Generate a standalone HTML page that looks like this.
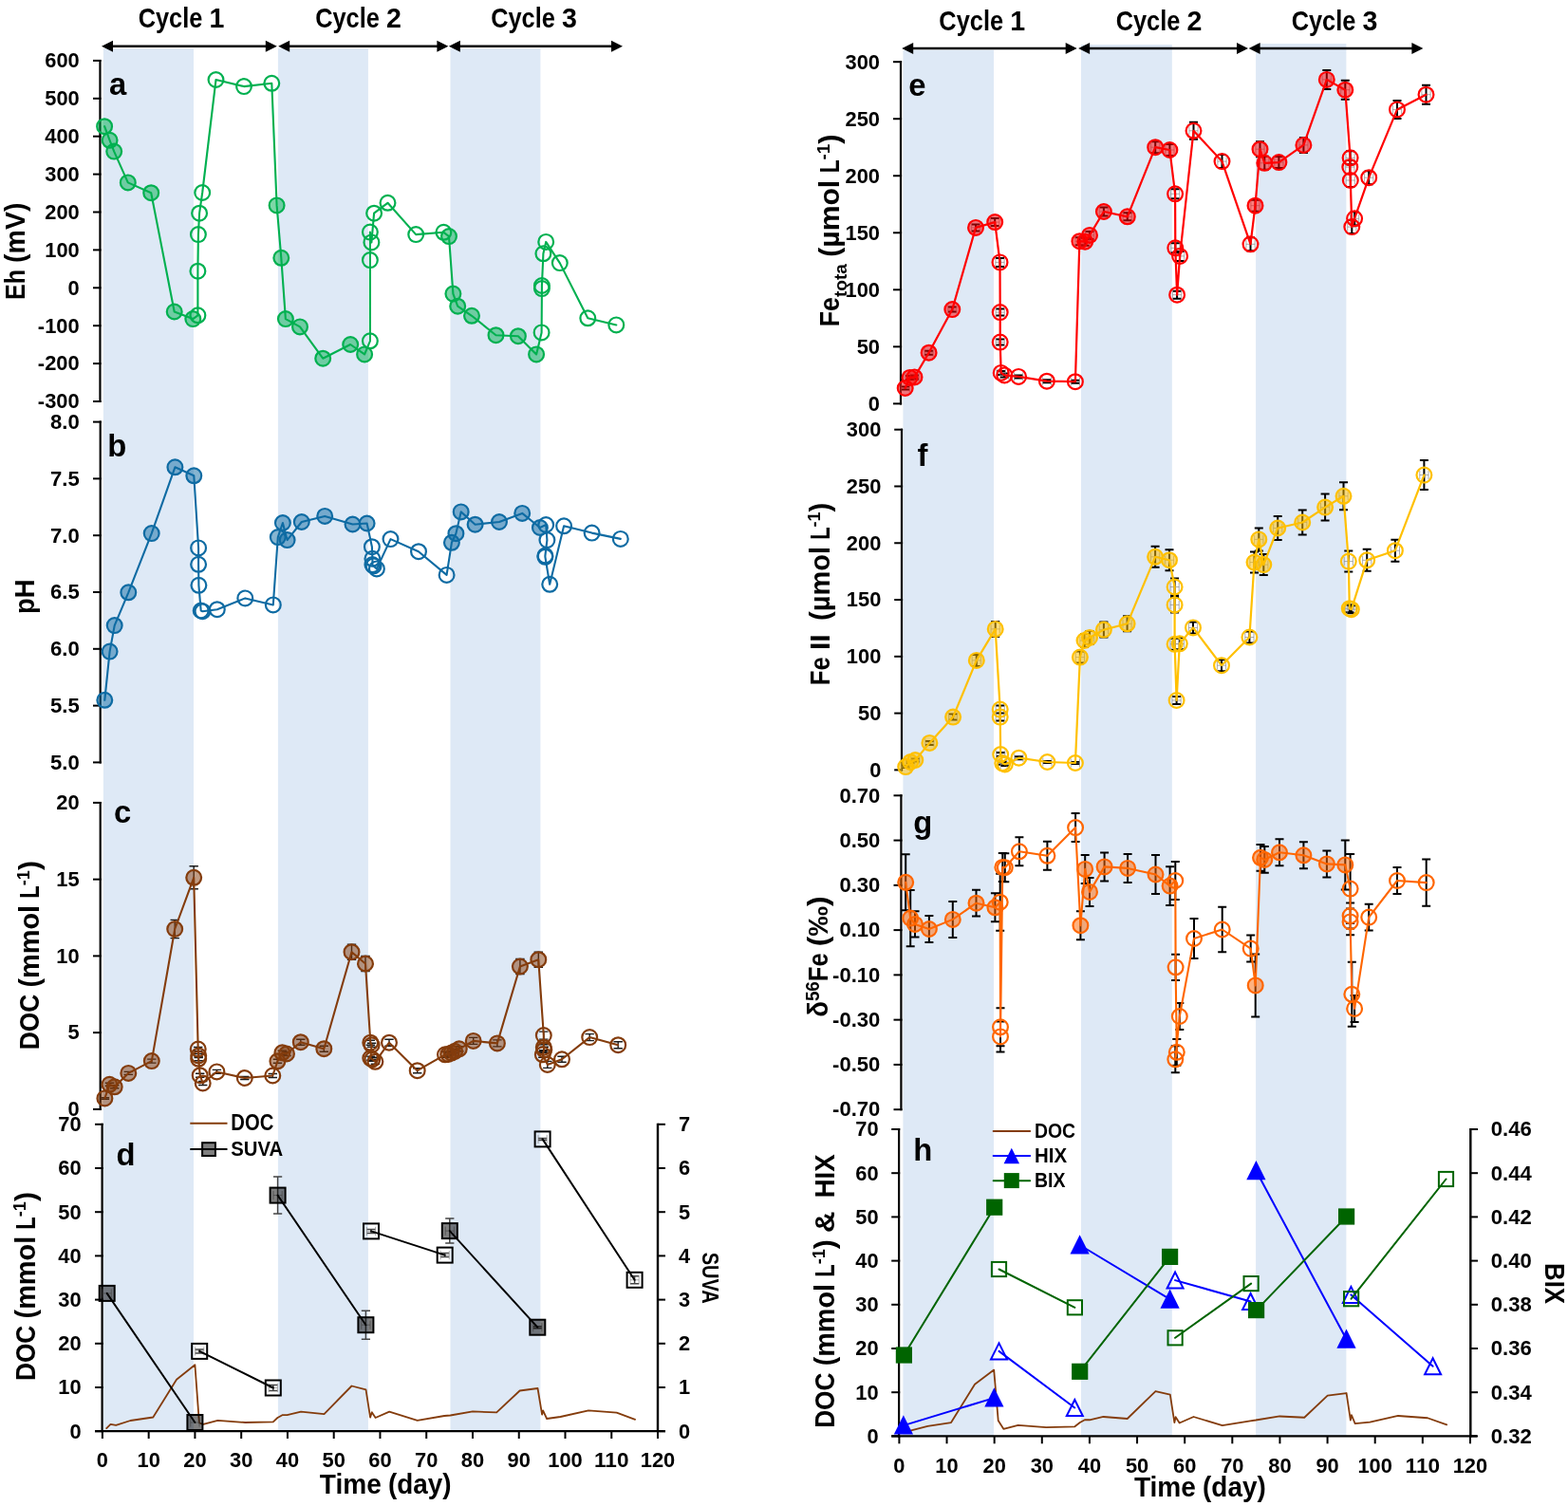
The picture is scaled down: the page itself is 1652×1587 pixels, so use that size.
<!DOCTYPE html>
<html lang="en"><head><meta charset="utf-8"><title>Redox cycles figure</title>
<style>
html,body{margin:0;padding:0;background:#fff;}
body{width:1652px;height:1587px;overflow:hidden;}
svg{display:block;}
svg text{font-family:"Liberation Sans", Arial, Helvetica, sans-serif;font-weight:bold;fill:#000;}
</style></head><body>
<svg width="1652" height="1587" viewBox="0 0 1652 1587">
<rect x="0" y="0" width="1652" height="1587" fill="#fff"/>
<rect x="108.9" y="51" width="95.1" height="1457" fill="#DEE9F6"/>
<rect x="292.9" y="51" width="95" height="1457" fill="#DEE9F6"/>
<rect x="474.5" y="51" width="94.9" height="1457" fill="#DEE9F6"/>
<rect x="951.4" y="52.7" width="95.6" height="1460.7" fill="#DEE9F6"/>
<rect x="1139" y="47" width="95.8" height="1466.4" fill="#DEE9F6"/>
<rect x="1323.1" y="46" width="95.3" height="1467.4" fill="#DEE9F6"/>
<line x1="118" y1="48.8" x2="280.8" y2="48.8" stroke="#000" stroke-width="2.5" stroke-linecap="butt"/>
<polygon points="107,48.8 119,42.8 119,54.8" fill="#000"/>
<polygon points="291.8,48.8 279.8,42.8 279.8,54.8" fill="#000"/>
<line x1="304.2" y1="48.8" x2="461.4" y2="48.8" stroke="#000" stroke-width="2.5" stroke-linecap="butt"/>
<polygon points="293.2,48.8 305.2,42.8 305.2,54.8" fill="#000"/>
<polygon points="472.4,48.8 460.4,42.8 460.4,54.8" fill="#000"/>
<line x1="483.9" y1="48.8" x2="645" y2="48.8" stroke="#000" stroke-width="2.5" stroke-linecap="butt"/>
<polygon points="472.9,48.8 484.9,42.8 484.9,54.8" fill="#000"/>
<polygon points="656,48.8 644,42.8 644,54.8" fill="#000"/>
<g transform="translate(191 29.3)">
<text x="-45.35" y="0" font-size="30.08" textLength="67.7" lengthAdjust="spacingAndGlyphs">Cycle</text>
<text x="29.45" y="0" font-size="30.08" textLength="15.9" lengthAdjust="spacingAndGlyphs">1</text>
</g>
<g transform="translate(377.5 29.3)">
<text x="-45.35" y="0" font-size="30.08" textLength="67.7" lengthAdjust="spacingAndGlyphs">Cycle</text>
<text x="29.45" y="0" font-size="30.08" textLength="15.9" lengthAdjust="spacingAndGlyphs">2</text>
</g>
<g transform="translate(562.5 29.3)">
<text x="-45.35" y="0" font-size="30.08" textLength="67.7" lengthAdjust="spacingAndGlyphs">Cycle</text>
<text x="29.45" y="0" font-size="30.08" textLength="15.9" lengthAdjust="spacingAndGlyphs">3</text>
</g>
<line x1="961.2" y1="51" x2="1123.7" y2="51" stroke="#000" stroke-width="2.6" stroke-linecap="butt"/>
<polygon points="950.2,51 962.2,45 962.2,57" fill="#000"/>
<polygon points="1134.7,51 1122.7,45 1122.7,57" fill="#000"/>
<line x1="1147.1" y1="51" x2="1304" y2="51" stroke="#000" stroke-width="2.6" stroke-linecap="butt"/>
<polygon points="1136.1,51 1148.1,45 1148.1,57" fill="#000"/>
<polygon points="1315,51 1303,45 1303,57" fill="#000"/>
<line x1="1326.6" y1="51" x2="1488.4" y2="51" stroke="#000" stroke-width="2.6" stroke-linecap="butt"/>
<polygon points="1315.6,51 1327.6,45 1327.6,57" fill="#000"/>
<polygon points="1499.4,51 1487.4,45 1487.4,57" fill="#000"/>
<g transform="translate(1034.7 32.2)">
<text x="-45.35" y="0" font-size="30.08" textLength="67.7" lengthAdjust="spacingAndGlyphs">Cycle</text>
<text x="29.45" y="0" font-size="30.08" textLength="15.9" lengthAdjust="spacingAndGlyphs">1</text>
</g>
<g transform="translate(1221 32.2)">
<text x="-45.35" y="0" font-size="30.08" textLength="67.7" lengthAdjust="spacingAndGlyphs">Cycle</text>
<text x="29.45" y="0" font-size="30.08" textLength="15.9" lengthAdjust="spacingAndGlyphs">2</text>
</g>
<g transform="translate(1406 32.2)">
<text x="-45.35" y="0" font-size="30.08" textLength="67.7" lengthAdjust="spacingAndGlyphs">Cycle</text>
<text x="29.45" y="0" font-size="30.08" textLength="15.9" lengthAdjust="spacingAndGlyphs">3</text>
</g>
<line x1="105.45" y1="62.9" x2="105.45" y2="424" stroke="#000" stroke-width="2.2" stroke-linecap="butt"/>
<line x1="98" y1="63.9" x2="106.55" y2="63.9" stroke="#000" stroke-width="2" stroke-linecap="butt"/>
<g transform="translate(83.7 71.2)">
<text x="-36.49" y="0" font-size="22.56" textLength="36.49" lengthAdjust="spacingAndGlyphs">600</text>
</g>
<line x1="98" y1="103.8" x2="106.55" y2="103.8" stroke="#000" stroke-width="2" stroke-linecap="butt"/>
<g transform="translate(83.7 111.1)">
<text x="-36.49" y="0" font-size="22.56" textLength="36.49" lengthAdjust="spacingAndGlyphs">500</text>
</g>
<line x1="98" y1="143.7" x2="106.55" y2="143.7" stroke="#000" stroke-width="2" stroke-linecap="butt"/>
<g transform="translate(83.7 151)">
<text x="-36.49" y="0" font-size="22.56" textLength="36.49" lengthAdjust="spacingAndGlyphs">400</text>
</g>
<line x1="98" y1="183.6" x2="106.55" y2="183.6" stroke="#000" stroke-width="2" stroke-linecap="butt"/>
<g transform="translate(83.7 190.9)">
<text x="-36.49" y="0" font-size="22.56" textLength="36.49" lengthAdjust="spacingAndGlyphs">300</text>
</g>
<line x1="98" y1="223.5" x2="106.55" y2="223.5" stroke="#000" stroke-width="2" stroke-linecap="butt"/>
<g transform="translate(83.7 230.8)">
<text x="-36.49" y="0" font-size="22.56" textLength="36.49" lengthAdjust="spacingAndGlyphs">200</text>
</g>
<line x1="98" y1="263.4" x2="106.55" y2="263.4" stroke="#000" stroke-width="2" stroke-linecap="butt"/>
<g transform="translate(83.7 270.7)">
<text x="-36.49" y="0" font-size="22.56" textLength="36.49" lengthAdjust="spacingAndGlyphs">100</text>
</g>
<line x1="98" y1="303.3" x2="106.55" y2="303.3" stroke="#000" stroke-width="2" stroke-linecap="butt"/>
<g transform="translate(83.7 310.6)">
<text x="-12.16" y="0" font-size="22.56" textLength="12.16" lengthAdjust="spacingAndGlyphs">0</text>
</g>
<line x1="98" y1="343.2" x2="106.55" y2="343.2" stroke="#000" stroke-width="2" stroke-linecap="butt"/>
<g transform="translate(83.7 350.5)">
<text x="-43.84" y="0" font-size="22.56" textLength="43.84" lengthAdjust="spacingAndGlyphs">-100</text>
</g>
<line x1="98" y1="383.1" x2="106.55" y2="383.1" stroke="#000" stroke-width="2" stroke-linecap="butt"/>
<g transform="translate(83.7 390.4)">
<text x="-43.84" y="0" font-size="22.56" textLength="43.84" lengthAdjust="spacingAndGlyphs">-200</text>
</g>
<line x1="98" y1="423" x2="106.55" y2="423" stroke="#000" stroke-width="2" stroke-linecap="butt"/>
<g transform="translate(83.7 430.3)">
<text x="-43.84" y="0" font-size="22.56" textLength="43.84" lengthAdjust="spacingAndGlyphs">-300</text>
</g>
<line x1="105.7" y1="443.6" x2="105.7" y2="804.4" stroke="#000" stroke-width="2.2" stroke-linecap="butt"/>
<line x1="98" y1="444.6" x2="106.8" y2="444.6" stroke="#000" stroke-width="2" stroke-linecap="butt"/>
<g transform="translate(83.7 451.9)">
<text x="-30.74" y="0" font-size="22.56" textLength="30.74" lengthAdjust="spacingAndGlyphs">8.0</text>
</g>
<line x1="98" y1="504.4" x2="106.8" y2="504.4" stroke="#000" stroke-width="2" stroke-linecap="butt"/>
<g transform="translate(83.7 511.7)">
<text x="-30.74" y="0" font-size="22.56" textLength="30.74" lengthAdjust="spacingAndGlyphs">7.5</text>
</g>
<line x1="98" y1="564.2" x2="106.8" y2="564.2" stroke="#000" stroke-width="2" stroke-linecap="butt"/>
<g transform="translate(83.7 571.5)">
<text x="-30.74" y="0" font-size="22.56" textLength="30.74" lengthAdjust="spacingAndGlyphs">7.0</text>
</g>
<line x1="98" y1="624" x2="106.8" y2="624" stroke="#000" stroke-width="2" stroke-linecap="butt"/>
<g transform="translate(83.7 631.3)">
<text x="-30.74" y="0" font-size="22.56" textLength="30.74" lengthAdjust="spacingAndGlyphs">6.5</text>
</g>
<line x1="98" y1="683.8" x2="106.8" y2="683.8" stroke="#000" stroke-width="2" stroke-linecap="butt"/>
<g transform="translate(83.7 691.1)">
<text x="-30.74" y="0" font-size="22.56" textLength="30.74" lengthAdjust="spacingAndGlyphs">6.0</text>
</g>
<line x1="98" y1="743.6" x2="106.8" y2="743.6" stroke="#000" stroke-width="2" stroke-linecap="butt"/>
<g transform="translate(83.7 750.9)">
<text x="-30.74" y="0" font-size="22.56" textLength="30.74" lengthAdjust="spacingAndGlyphs">5.5</text>
</g>
<line x1="98" y1="803.4" x2="106.8" y2="803.4" stroke="#000" stroke-width="2" stroke-linecap="butt"/>
<g transform="translate(83.7 810.7)">
<text x="-30.74" y="0" font-size="22.56" textLength="30.74" lengthAdjust="spacingAndGlyphs">5.0</text>
</g>
<line x1="105.7" y1="844.9" x2="105.7" y2="1169.9" stroke="#000" stroke-width="2.2" stroke-linecap="butt"/>
<line x1="98" y1="845.9" x2="106.8" y2="845.9" stroke="#000" stroke-width="2" stroke-linecap="butt"/>
<g transform="translate(83.7 853.2)">
<text x="-24.33" y="0" font-size="22.56" textLength="24.33" lengthAdjust="spacingAndGlyphs">20</text>
</g>
<line x1="98" y1="926.65" x2="106.8" y2="926.65" stroke="#000" stroke-width="2" stroke-linecap="butt"/>
<g transform="translate(83.7 933.95)">
<text x="-24.33" y="0" font-size="22.56" textLength="24.33" lengthAdjust="spacingAndGlyphs">15</text>
</g>
<line x1="98" y1="1007.4" x2="106.8" y2="1007.4" stroke="#000" stroke-width="2" stroke-linecap="butt"/>
<g transform="translate(83.7 1014.7)">
<text x="-24.33" y="0" font-size="22.56" textLength="24.33" lengthAdjust="spacingAndGlyphs">10</text>
</g>
<line x1="98" y1="1088.15" x2="106.8" y2="1088.15" stroke="#000" stroke-width="2" stroke-linecap="butt"/>
<g transform="translate(83.7 1095.45)">
<text x="-12.16" y="0" font-size="22.56" textLength="12.16" lengthAdjust="spacingAndGlyphs">5</text>
</g>
<line x1="98" y1="1168.9" x2="106.8" y2="1168.9" stroke="#000" stroke-width="2" stroke-linecap="butt"/>
<g transform="translate(83.7 1176.2)">
<text x="-12.16" y="0" font-size="22.56" textLength="12.16" lengthAdjust="spacingAndGlyphs">0</text>
</g>
<line x1="107.6" y1="1183.8" x2="107.6" y2="1509.2" stroke="#000" stroke-width="2.2" stroke-linecap="butt"/>
<line x1="100" y1="1184.8" x2="108.7" y2="1184.8" stroke="#000" stroke-width="2" stroke-linecap="butt"/>
<g transform="translate(85.6 1192.1)">
<text x="-24.33" y="0" font-size="22.56" textLength="24.33" lengthAdjust="spacingAndGlyphs">70</text>
</g>
<line x1="100" y1="1231" x2="108.7" y2="1231" stroke="#000" stroke-width="2" stroke-linecap="butt"/>
<g transform="translate(85.6 1238.3)">
<text x="-24.33" y="0" font-size="22.56" textLength="24.33" lengthAdjust="spacingAndGlyphs">60</text>
</g>
<line x1="100" y1="1277.2" x2="108.7" y2="1277.2" stroke="#000" stroke-width="2" stroke-linecap="butt"/>
<g transform="translate(85.6 1284.5)">
<text x="-24.33" y="0" font-size="22.56" textLength="24.33" lengthAdjust="spacingAndGlyphs">50</text>
</g>
<line x1="100" y1="1323.4" x2="108.7" y2="1323.4" stroke="#000" stroke-width="2" stroke-linecap="butt"/>
<g transform="translate(85.6 1330.7)">
<text x="-24.33" y="0" font-size="22.56" textLength="24.33" lengthAdjust="spacingAndGlyphs">40</text>
</g>
<line x1="100" y1="1369.6" x2="108.7" y2="1369.6" stroke="#000" stroke-width="2" stroke-linecap="butt"/>
<g transform="translate(85.6 1376.9)">
<text x="-24.33" y="0" font-size="22.56" textLength="24.33" lengthAdjust="spacingAndGlyphs">30</text>
</g>
<line x1="100" y1="1415.8" x2="108.7" y2="1415.8" stroke="#000" stroke-width="2" stroke-linecap="butt"/>
<g transform="translate(85.6 1423.1)">
<text x="-24.33" y="0" font-size="22.56" textLength="24.33" lengthAdjust="spacingAndGlyphs">20</text>
</g>
<line x1="100" y1="1462" x2="108.7" y2="1462" stroke="#000" stroke-width="2" stroke-linecap="butt"/>
<g transform="translate(85.6 1469.3)">
<text x="-24.33" y="0" font-size="22.56" textLength="24.33" lengthAdjust="spacingAndGlyphs">10</text>
</g>
<line x1="100" y1="1508.2" x2="108.7" y2="1508.2" stroke="#000" stroke-width="2" stroke-linecap="butt"/>
<g transform="translate(85.6 1515.5)">
<text x="-12.16" y="0" font-size="22.56" textLength="12.16" lengthAdjust="spacingAndGlyphs">0</text>
</g>
<line x1="100" y1="1508.1" x2="701" y2="1508.1" stroke="#000" stroke-width="2.4" stroke-linecap="butt"/>
<line x1="107.9" y1="1508.1" x2="107.9" y2="1516" stroke="#000" stroke-width="2" stroke-linecap="butt"/>
<g transform="translate(107.9 1546.3)">
<text x="-6.08" y="0" font-size="22.56" textLength="12.16" lengthAdjust="spacingAndGlyphs">0</text>
</g>
<line x1="156.66" y1="1508.1" x2="156.66" y2="1516" stroke="#000" stroke-width="2" stroke-linecap="butt"/>
<g transform="translate(156.66 1546.3)">
<text x="-12.16" y="0" font-size="22.56" textLength="24.33" lengthAdjust="spacingAndGlyphs">10</text>
</g>
<line x1="205.42" y1="1508.1" x2="205.42" y2="1516" stroke="#000" stroke-width="2" stroke-linecap="butt"/>
<g transform="translate(205.42 1546.3)">
<text x="-12.16" y="0" font-size="22.56" textLength="24.33" lengthAdjust="spacingAndGlyphs">20</text>
</g>
<line x1="254.18" y1="1508.1" x2="254.18" y2="1516" stroke="#000" stroke-width="2" stroke-linecap="butt"/>
<g transform="translate(254.18 1546.3)">
<text x="-12.16" y="0" font-size="22.56" textLength="24.33" lengthAdjust="spacingAndGlyphs">30</text>
</g>
<line x1="302.94" y1="1508.1" x2="302.94" y2="1516" stroke="#000" stroke-width="2" stroke-linecap="butt"/>
<g transform="translate(302.94 1546.3)">
<text x="-12.16" y="0" font-size="22.56" textLength="24.33" lengthAdjust="spacingAndGlyphs">40</text>
</g>
<line x1="351.7" y1="1508.1" x2="351.7" y2="1516" stroke="#000" stroke-width="2" stroke-linecap="butt"/>
<g transform="translate(351.7 1546.3)">
<text x="-12.16" y="0" font-size="22.56" textLength="24.33" lengthAdjust="spacingAndGlyphs">50</text>
</g>
<line x1="400.46" y1="1508.1" x2="400.46" y2="1516" stroke="#000" stroke-width="2" stroke-linecap="butt"/>
<g transform="translate(400.46 1546.3)">
<text x="-12.16" y="0" font-size="22.56" textLength="24.33" lengthAdjust="spacingAndGlyphs">60</text>
</g>
<line x1="449.22" y1="1508.1" x2="449.22" y2="1516" stroke="#000" stroke-width="2" stroke-linecap="butt"/>
<g transform="translate(449.22 1546.3)">
<text x="-12.16" y="0" font-size="22.56" textLength="24.33" lengthAdjust="spacingAndGlyphs">70</text>
</g>
<line x1="497.98" y1="1508.1" x2="497.98" y2="1516" stroke="#000" stroke-width="2" stroke-linecap="butt"/>
<g transform="translate(497.98 1546.3)">
<text x="-12.16" y="0" font-size="22.56" textLength="24.33" lengthAdjust="spacingAndGlyphs">80</text>
</g>
<line x1="546.74" y1="1508.1" x2="546.74" y2="1516" stroke="#000" stroke-width="2" stroke-linecap="butt"/>
<g transform="translate(546.74 1546.3)">
<text x="-12.16" y="0" font-size="22.56" textLength="24.33" lengthAdjust="spacingAndGlyphs">90</text>
</g>
<line x1="595.5" y1="1508.1" x2="595.5" y2="1516" stroke="#000" stroke-width="2" stroke-linecap="butt"/>
<g transform="translate(595.5 1546.3)">
<text x="-18.25" y="0" font-size="22.56" textLength="36.49" lengthAdjust="spacingAndGlyphs">100</text>
</g>
<line x1="644.26" y1="1508.1" x2="644.26" y2="1516" stroke="#000" stroke-width="2" stroke-linecap="butt"/>
<g transform="translate(644.26 1546.3)">
<text x="-18.25" y="0" font-size="22.56" textLength="36.49" lengthAdjust="spacingAndGlyphs">110</text>
</g>
<line x1="693.02" y1="1508.1" x2="693.02" y2="1516" stroke="#000" stroke-width="2" stroke-linecap="butt"/>
<g transform="translate(693.02 1546.3)">
<text x="-18.25" y="0" font-size="22.56" textLength="36.49" lengthAdjust="spacingAndGlyphs">120</text>
</g>
<line x1="693" y1="1183.8" x2="693" y2="1509.1" stroke="#000" stroke-width="2.4" stroke-linecap="butt"/>
<line x1="693" y1="1184.8" x2="701" y2="1184.8" stroke="#000" stroke-width="2" stroke-linecap="butt"/>
<g transform="translate(714.9 1192.1)">
<text x="0" y="0" font-size="22.56" textLength="12.16" lengthAdjust="spacingAndGlyphs">7</text>
</g>
<line x1="693" y1="1231" x2="701" y2="1231" stroke="#000" stroke-width="2" stroke-linecap="butt"/>
<g transform="translate(714.9 1238.3)">
<text x="0" y="0" font-size="22.56" textLength="12.16" lengthAdjust="spacingAndGlyphs">6</text>
</g>
<line x1="693" y1="1277.2" x2="701" y2="1277.2" stroke="#000" stroke-width="2" stroke-linecap="butt"/>
<g transform="translate(714.9 1284.5)">
<text x="0" y="0" font-size="22.56" textLength="12.16" lengthAdjust="spacingAndGlyphs">5</text>
</g>
<line x1="693" y1="1323.4" x2="701" y2="1323.4" stroke="#000" stroke-width="2" stroke-linecap="butt"/>
<g transform="translate(714.9 1330.7)">
<text x="0" y="0" font-size="22.56" textLength="12.16" lengthAdjust="spacingAndGlyphs">4</text>
</g>
<line x1="693" y1="1369.6" x2="701" y2="1369.6" stroke="#000" stroke-width="2" stroke-linecap="butt"/>
<g transform="translate(714.9 1376.9)">
<text x="0" y="0" font-size="22.56" textLength="12.16" lengthAdjust="spacingAndGlyphs">3</text>
</g>
<line x1="693" y1="1415.8" x2="701" y2="1415.8" stroke="#000" stroke-width="2" stroke-linecap="butt"/>
<g transform="translate(714.9 1423.1)">
<text x="0" y="0" font-size="22.56" textLength="12.16" lengthAdjust="spacingAndGlyphs">2</text>
</g>
<line x1="693" y1="1462" x2="701" y2="1462" stroke="#000" stroke-width="2" stroke-linecap="butt"/>
<g transform="translate(714.9 1469.3)">
<text x="0" y="0" font-size="22.56" textLength="12.16" lengthAdjust="spacingAndGlyphs">1</text>
</g>
<line x1="693" y1="1508.2" x2="701" y2="1508.2" stroke="#000" stroke-width="2" stroke-linecap="butt"/>
<g transform="translate(714.9 1515.5)">
<text x="0" y="0" font-size="22.56" textLength="12.16" lengthAdjust="spacingAndGlyphs">0</text>
</g>
<g transform="translate(336.8 1573.9)">
<text x="0" y="0" font-size="30.08" textLength="65.02" lengthAdjust="spacingAndGlyphs">Time</text>
<text x="72.16" y="0" font-size="30.08" textLength="66.64" lengthAdjust="spacingAndGlyphs">(day)</text>
</g>
<line x1="949" y1="64.2" x2="949" y2="426.38" stroke="#000" stroke-width="2.2" stroke-linecap="butt"/>
<line x1="941" y1="65.2" x2="950.1" y2="65.2" stroke="#000" stroke-width="2" stroke-linecap="butt"/>
<g transform="translate(927 72.5)">
<text x="-36.49" y="0" font-size="22.56" textLength="36.49" lengthAdjust="spacingAndGlyphs">300</text>
</g>
<line x1="941" y1="125.23" x2="950.1" y2="125.23" stroke="#000" stroke-width="2" stroke-linecap="butt"/>
<g transform="translate(927 132.53)">
<text x="-36.49" y="0" font-size="22.56" textLength="36.49" lengthAdjust="spacingAndGlyphs">250</text>
</g>
<line x1="941" y1="185.26" x2="950.1" y2="185.26" stroke="#000" stroke-width="2" stroke-linecap="butt"/>
<g transform="translate(927 192.56)">
<text x="-36.49" y="0" font-size="22.56" textLength="36.49" lengthAdjust="spacingAndGlyphs">200</text>
</g>
<line x1="941" y1="245.29" x2="950.1" y2="245.29" stroke="#000" stroke-width="2" stroke-linecap="butt"/>
<g transform="translate(927 252.59)">
<text x="-36.49" y="0" font-size="22.56" textLength="36.49" lengthAdjust="spacingAndGlyphs">150</text>
</g>
<line x1="941" y1="305.32" x2="950.1" y2="305.32" stroke="#000" stroke-width="2" stroke-linecap="butt"/>
<g transform="translate(927 312.62)">
<text x="-36.49" y="0" font-size="22.56" textLength="36.49" lengthAdjust="spacingAndGlyphs">100</text>
</g>
<line x1="941" y1="365.35" x2="950.1" y2="365.35" stroke="#000" stroke-width="2" stroke-linecap="butt"/>
<g transform="translate(927 372.65)">
<text x="-24.33" y="0" font-size="22.56" textLength="24.33" lengthAdjust="spacingAndGlyphs">50</text>
</g>
<line x1="941" y1="425.38" x2="950.1" y2="425.38" stroke="#000" stroke-width="2" stroke-linecap="butt"/>
<g transform="translate(927 432.68)">
<text x="-12.16" y="0" font-size="22.56" textLength="12.16" lengthAdjust="spacingAndGlyphs">0</text>
</g>
<line x1="950" y1="451.7" x2="950" y2="812.38" stroke="#000" stroke-width="2.2" stroke-linecap="butt"/>
<line x1="942.2" y1="452.7" x2="951.1" y2="452.7" stroke="#000" stroke-width="2" stroke-linecap="butt"/>
<g transform="translate(928.3 460)">
<text x="-36.49" y="0" font-size="22.56" textLength="36.49" lengthAdjust="spacingAndGlyphs">300</text>
</g>
<line x1="942.2" y1="512.48" x2="951.1" y2="512.48" stroke="#000" stroke-width="2" stroke-linecap="butt"/>
<g transform="translate(928.3 519.78)">
<text x="-36.49" y="0" font-size="22.56" textLength="36.49" lengthAdjust="spacingAndGlyphs">250</text>
</g>
<line x1="942.2" y1="572.26" x2="951.1" y2="572.26" stroke="#000" stroke-width="2" stroke-linecap="butt"/>
<g transform="translate(928.3 579.56)">
<text x="-36.49" y="0" font-size="22.56" textLength="36.49" lengthAdjust="spacingAndGlyphs">200</text>
</g>
<line x1="942.2" y1="632.04" x2="951.1" y2="632.04" stroke="#000" stroke-width="2" stroke-linecap="butt"/>
<g transform="translate(928.3 639.34)">
<text x="-36.49" y="0" font-size="22.56" textLength="36.49" lengthAdjust="spacingAndGlyphs">150</text>
</g>
<line x1="942.2" y1="691.82" x2="951.1" y2="691.82" stroke="#000" stroke-width="2" stroke-linecap="butt"/>
<g transform="translate(928.3 699.12)">
<text x="-36.49" y="0" font-size="22.56" textLength="36.49" lengthAdjust="spacingAndGlyphs">100</text>
</g>
<line x1="942.2" y1="751.6" x2="951.1" y2="751.6" stroke="#000" stroke-width="2" stroke-linecap="butt"/>
<g transform="translate(928.3 758.9)">
<text x="-24.33" y="0" font-size="22.56" textLength="24.33" lengthAdjust="spacingAndGlyphs">50</text>
</g>
<line x1="942.2" y1="811.38" x2="951.1" y2="811.38" stroke="#000" stroke-width="2" stroke-linecap="butt"/>
<g transform="translate(928.3 818.68)">
<text x="-12.16" y="0" font-size="22.56" textLength="12.16" lengthAdjust="spacingAndGlyphs">0</text>
</g>
<line x1="949.4" y1="837.3" x2="949.4" y2="1170.19" stroke="#000" stroke-width="2.2" stroke-linecap="butt"/>
<line x1="941.5" y1="838.3" x2="950.5" y2="838.3" stroke="#000" stroke-width="2" stroke-linecap="butt"/>
<g transform="translate(927.3 845.6)">
<text x="-42.9" y="0" font-size="22.56" textLength="42.9" lengthAdjust="spacingAndGlyphs">0.70</text>
</g>
<line x1="941.5" y1="885.57" x2="950.5" y2="885.57" stroke="#000" stroke-width="2" stroke-linecap="butt"/>
<g transform="translate(927.3 892.87)">
<text x="-42.9" y="0" font-size="22.56" textLength="42.9" lengthAdjust="spacingAndGlyphs">0.50</text>
</g>
<line x1="941.5" y1="932.84" x2="950.5" y2="932.84" stroke="#000" stroke-width="2" stroke-linecap="butt"/>
<g transform="translate(927.3 940.14)">
<text x="-42.9" y="0" font-size="22.56" textLength="42.9" lengthAdjust="spacingAndGlyphs">0.30</text>
</g>
<line x1="941.5" y1="980.11" x2="950.5" y2="980.11" stroke="#000" stroke-width="2" stroke-linecap="butt"/>
<g transform="translate(927.3 987.41)">
<text x="-42.9" y="0" font-size="22.56" textLength="42.9" lengthAdjust="spacingAndGlyphs">0.10</text>
</g>
<line x1="941.5" y1="1027.38" x2="950.5" y2="1027.38" stroke="#000" stroke-width="2" stroke-linecap="butt"/>
<g transform="translate(927.3 1034.68)">
<text x="-50.25" y="0" font-size="22.56" textLength="50.25" lengthAdjust="spacingAndGlyphs">-0.10</text>
</g>
<line x1="941.5" y1="1074.65" x2="950.5" y2="1074.65" stroke="#000" stroke-width="2" stroke-linecap="butt"/>
<g transform="translate(927.3 1081.95)">
<text x="-50.25" y="0" font-size="22.56" textLength="50.25" lengthAdjust="spacingAndGlyphs">-0.30</text>
</g>
<line x1="941.5" y1="1121.92" x2="950.5" y2="1121.92" stroke="#000" stroke-width="2" stroke-linecap="butt"/>
<g transform="translate(927.3 1129.22)">
<text x="-50.25" y="0" font-size="22.56" textLength="50.25" lengthAdjust="spacingAndGlyphs">-0.50</text>
</g>
<line x1="941.5" y1="1169.19" x2="950.5" y2="1169.19" stroke="#000" stroke-width="2" stroke-linecap="butt"/>
<g transform="translate(927.3 1176.49)">
<text x="-50.25" y="0" font-size="22.56" textLength="50.25" lengthAdjust="spacingAndGlyphs">-0.70</text>
</g>
<line x1="947.1" y1="1189" x2="947.1" y2="1514.4" stroke="#000" stroke-width="2.2" stroke-linecap="butt"/>
<line x1="939.2" y1="1190" x2="948.2" y2="1190" stroke="#000" stroke-width="2" stroke-linecap="butt"/>
<g transform="translate(925.7 1197.3)">
<text x="-24.33" y="0" font-size="22.56" textLength="24.33" lengthAdjust="spacingAndGlyphs">70</text>
</g>
<line x1="939.2" y1="1236.2" x2="948.2" y2="1236.2" stroke="#000" stroke-width="2" stroke-linecap="butt"/>
<g transform="translate(925.7 1243.5)">
<text x="-24.33" y="0" font-size="22.56" textLength="24.33" lengthAdjust="spacingAndGlyphs">60</text>
</g>
<line x1="939.2" y1="1282.4" x2="948.2" y2="1282.4" stroke="#000" stroke-width="2" stroke-linecap="butt"/>
<g transform="translate(925.7 1289.7)">
<text x="-24.33" y="0" font-size="22.56" textLength="24.33" lengthAdjust="spacingAndGlyphs">50</text>
</g>
<line x1="939.2" y1="1328.6" x2="948.2" y2="1328.6" stroke="#000" stroke-width="2" stroke-linecap="butt"/>
<g transform="translate(925.7 1335.9)">
<text x="-24.33" y="0" font-size="22.56" textLength="24.33" lengthAdjust="spacingAndGlyphs">40</text>
</g>
<line x1="939.2" y1="1374.8" x2="948.2" y2="1374.8" stroke="#000" stroke-width="2" stroke-linecap="butt"/>
<g transform="translate(925.7 1382.1)">
<text x="-24.33" y="0" font-size="22.56" textLength="24.33" lengthAdjust="spacingAndGlyphs">30</text>
</g>
<line x1="939.2" y1="1421" x2="948.2" y2="1421" stroke="#000" stroke-width="2" stroke-linecap="butt"/>
<g transform="translate(925.7 1428.3)">
<text x="-24.33" y="0" font-size="22.56" textLength="24.33" lengthAdjust="spacingAndGlyphs">20</text>
</g>
<line x1="939.2" y1="1467.2" x2="948.2" y2="1467.2" stroke="#000" stroke-width="2" stroke-linecap="butt"/>
<g transform="translate(925.7 1474.5)">
<text x="-24.33" y="0" font-size="22.56" textLength="24.33" lengthAdjust="spacingAndGlyphs">10</text>
</g>
<line x1="939.2" y1="1513.4" x2="948.2" y2="1513.4" stroke="#000" stroke-width="2" stroke-linecap="butt"/>
<g transform="translate(925.7 1520.7)">
<text x="-12.16" y="0" font-size="22.56" textLength="12.16" lengthAdjust="spacingAndGlyphs">0</text>
</g>
<line x1="939.2" y1="1513.4" x2="1556.2" y2="1513.4" stroke="#000" stroke-width="2.4" stroke-linecap="butt"/>
<line x1="947.4" y1="1513.4" x2="947.4" y2="1521.3" stroke="#000" stroke-width="2" stroke-linecap="butt"/>
<g transform="translate(947.4 1551.5)">
<text x="-6.08" y="0" font-size="22.56" textLength="12.16" lengthAdjust="spacingAndGlyphs">0</text>
</g>
<line x1="997.53" y1="1513.4" x2="997.53" y2="1521.3" stroke="#000" stroke-width="2" stroke-linecap="butt"/>
<g transform="translate(997.53 1551.5)">
<text x="-12.16" y="0" font-size="22.56" textLength="24.33" lengthAdjust="spacingAndGlyphs">10</text>
</g>
<line x1="1047.66" y1="1513.4" x2="1047.66" y2="1521.3" stroke="#000" stroke-width="2" stroke-linecap="butt"/>
<g transform="translate(1047.66 1551.5)">
<text x="-12.16" y="0" font-size="22.56" textLength="24.33" lengthAdjust="spacingAndGlyphs">20</text>
</g>
<line x1="1097.79" y1="1513.4" x2="1097.79" y2="1521.3" stroke="#000" stroke-width="2" stroke-linecap="butt"/>
<g transform="translate(1097.79 1551.5)">
<text x="-12.16" y="0" font-size="22.56" textLength="24.33" lengthAdjust="spacingAndGlyphs">30</text>
</g>
<line x1="1147.92" y1="1513.4" x2="1147.92" y2="1521.3" stroke="#000" stroke-width="2" stroke-linecap="butt"/>
<g transform="translate(1147.92 1551.5)">
<text x="-12.16" y="0" font-size="22.56" textLength="24.33" lengthAdjust="spacingAndGlyphs">40</text>
</g>
<line x1="1198.05" y1="1513.4" x2="1198.05" y2="1521.3" stroke="#000" stroke-width="2" stroke-linecap="butt"/>
<g transform="translate(1198.05 1551.5)">
<text x="-12.16" y="0" font-size="22.56" textLength="24.33" lengthAdjust="spacingAndGlyphs">50</text>
</g>
<line x1="1248.18" y1="1513.4" x2="1248.18" y2="1521.3" stroke="#000" stroke-width="2" stroke-linecap="butt"/>
<g transform="translate(1248.18 1551.5)">
<text x="-12.16" y="0" font-size="22.56" textLength="24.33" lengthAdjust="spacingAndGlyphs">60</text>
</g>
<line x1="1298.31" y1="1513.4" x2="1298.31" y2="1521.3" stroke="#000" stroke-width="2" stroke-linecap="butt"/>
<g transform="translate(1298.31 1551.5)">
<text x="-12.16" y="0" font-size="22.56" textLength="24.33" lengthAdjust="spacingAndGlyphs">70</text>
</g>
<line x1="1348.44" y1="1513.4" x2="1348.44" y2="1521.3" stroke="#000" stroke-width="2" stroke-linecap="butt"/>
<g transform="translate(1348.44 1551.5)">
<text x="-12.16" y="0" font-size="22.56" textLength="24.33" lengthAdjust="spacingAndGlyphs">80</text>
</g>
<line x1="1398.57" y1="1513.4" x2="1398.57" y2="1521.3" stroke="#000" stroke-width="2" stroke-linecap="butt"/>
<g transform="translate(1398.57 1551.5)">
<text x="-12.16" y="0" font-size="22.56" textLength="24.33" lengthAdjust="spacingAndGlyphs">90</text>
</g>
<line x1="1448.7" y1="1513.4" x2="1448.7" y2="1521.3" stroke="#000" stroke-width="2" stroke-linecap="butt"/>
<g transform="translate(1448.7 1551.5)">
<text x="-18.25" y="0" font-size="22.56" textLength="36.49" lengthAdjust="spacingAndGlyphs">100</text>
</g>
<line x1="1498.83" y1="1513.4" x2="1498.83" y2="1521.3" stroke="#000" stroke-width="2" stroke-linecap="butt"/>
<g transform="translate(1498.83 1551.5)">
<text x="-18.25" y="0" font-size="22.56" textLength="36.49" lengthAdjust="spacingAndGlyphs">110</text>
</g>
<line x1="1548.96" y1="1513.4" x2="1548.96" y2="1521.3" stroke="#000" stroke-width="2" stroke-linecap="butt"/>
<g transform="translate(1548.96 1551.5)">
<text x="-18.25" y="0" font-size="22.56" textLength="36.49" lengthAdjust="spacingAndGlyphs">120</text>
</g>
<line x1="1549.3" y1="1189" x2="1549.3" y2="1514.4" stroke="#000" stroke-width="2.4" stroke-linecap="butt"/>
<line x1="1549.3" y1="1190" x2="1557" y2="1190" stroke="#000" stroke-width="2" stroke-linecap="butt"/>
<g transform="translate(1570.8 1197.3)">
<text x="0" y="0" font-size="22.56" textLength="42.9" lengthAdjust="spacingAndGlyphs">0.46</text>
</g>
<line x1="1549.3" y1="1236.2" x2="1557" y2="1236.2" stroke="#000" stroke-width="2" stroke-linecap="butt"/>
<g transform="translate(1570.8 1243.5)">
<text x="0" y="0" font-size="22.56" textLength="42.9" lengthAdjust="spacingAndGlyphs">0.44</text>
</g>
<line x1="1549.3" y1="1282.4" x2="1557" y2="1282.4" stroke="#000" stroke-width="2" stroke-linecap="butt"/>
<g transform="translate(1570.8 1289.7)">
<text x="0" y="0" font-size="22.56" textLength="42.9" lengthAdjust="spacingAndGlyphs">0.42</text>
</g>
<line x1="1549.3" y1="1328.6" x2="1557" y2="1328.6" stroke="#000" stroke-width="2" stroke-linecap="butt"/>
<g transform="translate(1570.8 1335.9)">
<text x="0" y="0" font-size="22.56" textLength="42.9" lengthAdjust="spacingAndGlyphs">0.40</text>
</g>
<line x1="1549.3" y1="1374.8" x2="1557" y2="1374.8" stroke="#000" stroke-width="2" stroke-linecap="butt"/>
<g transform="translate(1570.8 1382.1)">
<text x="0" y="0" font-size="22.56" textLength="42.9" lengthAdjust="spacingAndGlyphs">0.38</text>
</g>
<line x1="1549.3" y1="1421" x2="1557" y2="1421" stroke="#000" stroke-width="2" stroke-linecap="butt"/>
<g transform="translate(1570.8 1428.3)">
<text x="0" y="0" font-size="22.56" textLength="42.9" lengthAdjust="spacingAndGlyphs">0.36</text>
</g>
<line x1="1549.3" y1="1467.2" x2="1557" y2="1467.2" stroke="#000" stroke-width="2" stroke-linecap="butt"/>
<g transform="translate(1570.8 1474.5)">
<text x="0" y="0" font-size="22.56" textLength="42.9" lengthAdjust="spacingAndGlyphs">0.34</text>
</g>
<line x1="1549.3" y1="1513.4" x2="1557" y2="1513.4" stroke="#000" stroke-width="2" stroke-linecap="butt"/>
<g transform="translate(1570.8 1520.7)">
<text x="0" y="0" font-size="22.56" textLength="42.9" lengthAdjust="spacingAndGlyphs">0.32</text>
</g>
<g transform="translate(1194.9 1577.1)">
<text x="0" y="0" font-size="30.08" textLength="65.02" lengthAdjust="spacingAndGlyphs">Time</text>
<text x="72.16" y="0" font-size="30.08" textLength="66.64" lengthAdjust="spacingAndGlyphs">(day)</text>
</g>
<text x="114.9" y="100" font-size="32.8">a</text>
<text x="113.2" y="480.8" font-size="32.8">b</text>
<text x="120" y="867" font-size="32.8">c</text>
<text x="122.4" y="1228.1" font-size="32.8">d</text>
<text x="957.3" y="101.4" font-size="32.8">e</text>
<text x="966.4" y="491.1" font-size="32.8">f</text>
<text x="962.3" y="877.5" font-size="32.8">g</text>
<text x="962.2" y="1223.1" font-size="32.8">h</text>
<polyline points="110.1,133.2 115.6,147.8 120.2,159.6 134.8,192.4 159.2,203.2 183.7,328.5 203.3,336.1 208.4,332.3 208.4,285.7 208.9,247.1 210.1,224.7 213.2,203 227.5,84 257,91.1 286.3,87.8 291.6,216.4 296.3,271.8 300.9,336.1 316,344.4 340.2,377.7 369.2,363 384.1,373.4 389.9,359.3 389.9,274.1 389.9,244.6 391.4,255.4 394.1,224.7 408.5,213.8 438.2,247.1 467.4,244.8 473,249.1 477.4,309.6 482.2,322.7 497,332.8 522.5,353.2 545.9,354.2 565.1,373.4 570.6,350.4 570.9,304.1 570.9,301 572.4,267.3 575.2,254.9 589.8,277.1 619.3,335.3 649.3,342.4" fill="none" stroke="#00B050" stroke-width="2.1" stroke-linejoin="round" stroke-linecap="round"/>
<circle cx="110.1" cy="133.2" r="7.9" fill="#00B050" fill-opacity="0.5" stroke="#00B050" stroke-width="2.2"/>
<circle cx="115.6" cy="147.8" r="7.9" fill="#00B050" fill-opacity="0.5" stroke="#00B050" stroke-width="2.2"/>
<circle cx="120.2" cy="159.6" r="7.9" fill="#00B050" fill-opacity="0.5" stroke="#00B050" stroke-width="2.2"/>
<circle cx="134.8" cy="192.4" r="7.9" fill="#00B050" fill-opacity="0.5" stroke="#00B050" stroke-width="2.2"/>
<circle cx="159.2" cy="203.2" r="7.9" fill="#00B050" fill-opacity="0.5" stroke="#00B050" stroke-width="2.2"/>
<circle cx="183.7" cy="328.5" r="7.9" fill="#00B050" fill-opacity="0.5" stroke="#00B050" stroke-width="2.2"/>
<circle cx="203.3" cy="336.1" r="7.9" fill="#00B050" fill-opacity="0.5" stroke="#00B050" stroke-width="2.2"/>
<circle cx="208.4" cy="332.3" r="7.9" fill="none" stroke="#00B050" stroke-width="2.2"/>
<circle cx="208.4" cy="285.7" r="7.9" fill="none" stroke="#00B050" stroke-width="2.2"/>
<circle cx="208.9" cy="247.1" r="7.9" fill="none" stroke="#00B050" stroke-width="2.2"/>
<circle cx="210.1" cy="224.7" r="7.9" fill="none" stroke="#00B050" stroke-width="2.2"/>
<circle cx="213.2" cy="203" r="7.9" fill="none" stroke="#00B050" stroke-width="2.2"/>
<circle cx="227.5" cy="84" r="7.9" fill="none" stroke="#00B050" stroke-width="2.2"/>
<circle cx="257" cy="91.1" r="7.9" fill="none" stroke="#00B050" stroke-width="2.2"/>
<circle cx="286.3" cy="87.8" r="7.9" fill="none" stroke="#00B050" stroke-width="2.2"/>
<circle cx="291.6" cy="216.4" r="7.9" fill="#00B050" fill-opacity="0.5" stroke="#00B050" stroke-width="2.2"/>
<circle cx="296.3" cy="271.8" r="7.9" fill="#00B050" fill-opacity="0.5" stroke="#00B050" stroke-width="2.2"/>
<circle cx="300.9" cy="336.1" r="7.9" fill="#00B050" fill-opacity="0.5" stroke="#00B050" stroke-width="2.2"/>
<circle cx="316" cy="344.4" r="7.9" fill="#00B050" fill-opacity="0.5" stroke="#00B050" stroke-width="2.2"/>
<circle cx="340.2" cy="377.7" r="7.9" fill="#00B050" fill-opacity="0.5" stroke="#00B050" stroke-width="2.2"/>
<circle cx="369.2" cy="363" r="7.9" fill="#00B050" fill-opacity="0.5" stroke="#00B050" stroke-width="2.2"/>
<circle cx="384.1" cy="373.4" r="7.9" fill="#00B050" fill-opacity="0.5" stroke="#00B050" stroke-width="2.2"/>
<circle cx="389.9" cy="359.3" r="7.9" fill="none" stroke="#00B050" stroke-width="2.2"/>
<circle cx="389.9" cy="274.1" r="7.9" fill="none" stroke="#00B050" stroke-width="2.2"/>
<circle cx="389.9" cy="244.6" r="7.9" fill="none" stroke="#00B050" stroke-width="2.2"/>
<circle cx="391.4" cy="255.4" r="7.9" fill="none" stroke="#00B050" stroke-width="2.2"/>
<circle cx="394.1" cy="224.7" r="7.9" fill="none" stroke="#00B050" stroke-width="2.2"/>
<circle cx="408.5" cy="213.8" r="7.9" fill="none" stroke="#00B050" stroke-width="2.2"/>
<circle cx="438.2" cy="247.1" r="7.9" fill="none" stroke="#00B050" stroke-width="2.2"/>
<circle cx="467.4" cy="244.8" r="7.9" fill="none" stroke="#00B050" stroke-width="2.2"/>
<circle cx="473" cy="249.1" r="7.9" fill="#00B050" fill-opacity="0.5" stroke="#00B050" stroke-width="2.2"/>
<circle cx="477.4" cy="309.6" r="7.9" fill="#00B050" fill-opacity="0.5" stroke="#00B050" stroke-width="2.2"/>
<circle cx="482.2" cy="322.7" r="7.9" fill="#00B050" fill-opacity="0.5" stroke="#00B050" stroke-width="2.2"/>
<circle cx="497" cy="332.8" r="7.9" fill="#00B050" fill-opacity="0.5" stroke="#00B050" stroke-width="2.2"/>
<circle cx="522.5" cy="353.2" r="7.9" fill="#00B050" fill-opacity="0.5" stroke="#00B050" stroke-width="2.2"/>
<circle cx="545.9" cy="354.2" r="7.9" fill="#00B050" fill-opacity="0.5" stroke="#00B050" stroke-width="2.2"/>
<circle cx="565.1" cy="373.4" r="7.9" fill="#00B050" fill-opacity="0.5" stroke="#00B050" stroke-width="2.2"/>
<circle cx="570.6" cy="350.4" r="7.9" fill="none" stroke="#00B050" stroke-width="2.2"/>
<circle cx="570.9" cy="304.1" r="7.9" fill="none" stroke="#00B050" stroke-width="2.2"/>
<circle cx="570.9" cy="301" r="7.9" fill="none" stroke="#00B050" stroke-width="2.2"/>
<circle cx="572.4" cy="267.3" r="7.9" fill="none" stroke="#00B050" stroke-width="2.2"/>
<circle cx="575.2" cy="254.9" r="7.9" fill="none" stroke="#00B050" stroke-width="2.2"/>
<circle cx="589.8" cy="277.1" r="7.9" fill="none" stroke="#00B050" stroke-width="2.2"/>
<circle cx="619.3" cy="335.3" r="7.9" fill="none" stroke="#00B050" stroke-width="2.2"/>
<circle cx="649.3" cy="342.4" r="7.9" fill="none" stroke="#00B050" stroke-width="2.2"/>
<polyline points="110.3,737.8 115.6,686.6 120.7,659.1 135.3,624.3 159.7,562.1 184.4,492.3 204.3,501.3 209.1,577.4 209.1,594.8 209.4,616.8 211.7,643.5 213.4,644.2 228.8,642.2 258.3,630.4 287.8,637.4 292.8,566.1 297.9,551 302.6,569.1 317.8,550 342.2,543.9 371.5,552.5 386.6,551.5 391.9,576.2 392.4,588.8 392.4,595.1 393.6,596.4 396.9,599.4 411.5,568.1 441,581.2 470.6,605.9 475.9,571.8 480.4,562.2 485.7,539.4 500.6,552.7 526,550 550.2,540.9 568.9,556 575.2,553 576.4,569.1 574.4,585.5 574.4,586.8 579.2,615.8 594.1,554.3 623.6,561.6 653.8,567.9" fill="none" stroke="#0E6BA3" stroke-width="2.1" stroke-linejoin="round" stroke-linecap="round"/>
<circle cx="110.3" cy="737.8" r="7.9" fill="#0E6BA3" fill-opacity="0.5" stroke="#0E6BA3" stroke-width="2.2"/>
<circle cx="115.6" cy="686.6" r="7.9" fill="#0E6BA3" fill-opacity="0.5" stroke="#0E6BA3" stroke-width="2.2"/>
<circle cx="120.7" cy="659.1" r="7.9" fill="#0E6BA3" fill-opacity="0.5" stroke="#0E6BA3" stroke-width="2.2"/>
<circle cx="135.3" cy="624.3" r="7.9" fill="#0E6BA3" fill-opacity="0.5" stroke="#0E6BA3" stroke-width="2.2"/>
<circle cx="159.7" cy="562.1" r="7.9" fill="#0E6BA3" fill-opacity="0.5" stroke="#0E6BA3" stroke-width="2.2"/>
<circle cx="184.4" cy="492.3" r="7.9" fill="#0E6BA3" fill-opacity="0.5" stroke="#0E6BA3" stroke-width="2.2"/>
<circle cx="204.3" cy="501.3" r="7.9" fill="#0E6BA3" fill-opacity="0.5" stroke="#0E6BA3" stroke-width="2.2"/>
<circle cx="209.1" cy="577.4" r="7.9" fill="none" stroke="#0E6BA3" stroke-width="2.2"/>
<circle cx="209.1" cy="594.8" r="7.9" fill="none" stroke="#0E6BA3" stroke-width="2.2"/>
<circle cx="209.4" cy="616.8" r="7.9" fill="none" stroke="#0E6BA3" stroke-width="2.2"/>
<circle cx="211.7" cy="643.5" r="7.9" fill="none" stroke="#0E6BA3" stroke-width="2.2"/>
<circle cx="213.4" cy="644.2" r="7.9" fill="none" stroke="#0E6BA3" stroke-width="2.2"/>
<circle cx="228.8" cy="642.2" r="7.9" fill="none" stroke="#0E6BA3" stroke-width="2.2"/>
<circle cx="258.3" cy="630.4" r="7.9" fill="none" stroke="#0E6BA3" stroke-width="2.2"/>
<circle cx="287.8" cy="637.4" r="7.9" fill="none" stroke="#0E6BA3" stroke-width="2.2"/>
<circle cx="292.8" cy="566.1" r="7.9" fill="#0E6BA3" fill-opacity="0.5" stroke="#0E6BA3" stroke-width="2.2"/>
<circle cx="297.9" cy="551" r="7.9" fill="#0E6BA3" fill-opacity="0.5" stroke="#0E6BA3" stroke-width="2.2"/>
<circle cx="302.6" cy="569.1" r="7.9" fill="#0E6BA3" fill-opacity="0.5" stroke="#0E6BA3" stroke-width="2.2"/>
<circle cx="317.8" cy="550" r="7.9" fill="#0E6BA3" fill-opacity="0.5" stroke="#0E6BA3" stroke-width="2.2"/>
<circle cx="342.2" cy="543.9" r="7.9" fill="#0E6BA3" fill-opacity="0.5" stroke="#0E6BA3" stroke-width="2.2"/>
<circle cx="371.5" cy="552.5" r="7.9" fill="#0E6BA3" fill-opacity="0.5" stroke="#0E6BA3" stroke-width="2.2"/>
<circle cx="386.6" cy="551.5" r="7.9" fill="#0E6BA3" fill-opacity="0.5" stroke="#0E6BA3" stroke-width="2.2"/>
<circle cx="391.9" cy="576.2" r="7.9" fill="none" stroke="#0E6BA3" stroke-width="2.2"/>
<circle cx="392.4" cy="588.8" r="7.9" fill="none" stroke="#0E6BA3" stroke-width="2.2"/>
<circle cx="392.4" cy="595.1" r="7.9" fill="none" stroke="#0E6BA3" stroke-width="2.2"/>
<circle cx="393.6" cy="596.4" r="7.9" fill="none" stroke="#0E6BA3" stroke-width="2.2"/>
<circle cx="396.9" cy="599.4" r="7.9" fill="none" stroke="#0E6BA3" stroke-width="2.2"/>
<circle cx="411.5" cy="568.1" r="7.9" fill="none" stroke="#0E6BA3" stroke-width="2.2"/>
<circle cx="441" cy="581.2" r="7.9" fill="none" stroke="#0E6BA3" stroke-width="2.2"/>
<circle cx="470.6" cy="605.9" r="7.9" fill="none" stroke="#0E6BA3" stroke-width="2.2"/>
<circle cx="475.9" cy="571.8" r="7.9" fill="#0E6BA3" fill-opacity="0.5" stroke="#0E6BA3" stroke-width="2.2"/>
<circle cx="480.4" cy="562.2" r="7.9" fill="#0E6BA3" fill-opacity="0.5" stroke="#0E6BA3" stroke-width="2.2"/>
<circle cx="485.7" cy="539.4" r="7.9" fill="#0E6BA3" fill-opacity="0.5" stroke="#0E6BA3" stroke-width="2.2"/>
<circle cx="500.6" cy="552.7" r="7.9" fill="#0E6BA3" fill-opacity="0.5" stroke="#0E6BA3" stroke-width="2.2"/>
<circle cx="526" cy="550" r="7.9" fill="#0E6BA3" fill-opacity="0.5" stroke="#0E6BA3" stroke-width="2.2"/>
<circle cx="550.2" cy="540.9" r="7.9" fill="#0E6BA3" fill-opacity="0.5" stroke="#0E6BA3" stroke-width="2.2"/>
<circle cx="568.9" cy="556" r="7.9" fill="#0E6BA3" fill-opacity="0.5" stroke="#0E6BA3" stroke-width="2.2"/>
<circle cx="575.2" cy="553" r="7.9" fill="none" stroke="#0E6BA3" stroke-width="2.2"/>
<circle cx="576.4" cy="569.1" r="7.9" fill="none" stroke="#0E6BA3" stroke-width="2.2"/>
<circle cx="574.4" cy="585.5" r="7.9" fill="none" stroke="#0E6BA3" stroke-width="2.2"/>
<circle cx="574.4" cy="586.8" r="7.9" fill="none" stroke="#0E6BA3" stroke-width="2.2"/>
<circle cx="579.2" cy="615.8" r="7.9" fill="none" stroke="#0E6BA3" stroke-width="2.2"/>
<circle cx="594.1" cy="554.3" r="7.9" fill="none" stroke="#0E6BA3" stroke-width="2.2"/>
<circle cx="623.6" cy="561.6" r="7.9" fill="none" stroke="#0E6BA3" stroke-width="2.2"/>
<circle cx="653.8" cy="567.9" r="7.9" fill="none" stroke="#0E6BA3" stroke-width="2.2"/>
<path d="M110.4,1156.6V1158.2M105.7,1156.6H115.1M105.7,1158.2H115.1M115.4,1141.3V1144.3M110.7,1141.3H120.1M110.7,1144.3H120.1M120.7,1143.8V1146.8M116,1143.8H125.4M116,1146.8H125.4M135.3,1129.4V1132.4M130.6,1129.4H140M130.6,1132.4H140M159.8,1116.1V1120.1M155.1,1116.1H164.5M155.1,1120.1H164.5M184.2,969.4V988.6M179.5,969.4H188.9M179.5,988.6H188.9M204.2,912.8V936.8M199.5,912.8H208.9M199.5,936.8H208.9M208.7,1103.5V1107.5M204,1103.5H213.4M204,1107.5H213.4M209.2,1110.5V1114.5M204.5,1110.5H213.9M204.5,1114.5H213.9M209.2,1113.8V1117.8M204.5,1113.8H213.9M204.5,1117.8H213.9M210.7,1131.2V1135.2M206,1131.2H215.4M206,1135.2H215.4M213.7,1139.5V1143.5M209,1139.5H218.4M209,1143.5H218.4M228.4,1127.4V1131.4M223.7,1127.4H233.1M223.7,1131.4H233.1M257.8,1134.5V1137.5M253.1,1134.5H262.5M253.1,1137.5H262.5M287.3,1131.5V1135.5M282.6,1131.5H292M282.6,1135.5H292M292.4,1116.3V1120.3M287.7,1116.3H297.1M287.7,1120.3H297.1M297.4,1107.3V1111.3M292.7,1107.3H302.1M292.7,1111.3H302.1M302,1108.5V1112.5M297.3,1108.5H306.7M297.3,1112.5H306.7M316.8,1095.2V1101.2M312.1,1095.2H321.5M312.1,1101.2H321.5M341.3,1102.2V1108.2M336.6,1102.2H346M336.6,1108.2H346M370.5,995.2V1011.2M365.8,995.2H375.2M365.8,1011.2H375.2M385,1007.5V1023.5M380.3,1007.5H389.7M380.3,1023.5H389.7M390.3,1096.2V1101.2M385.6,1096.2H395M385.6,1101.2H395M391.6,1099.2V1103.2M386.9,1099.2H396.3M386.9,1103.2H396.3M390.3,1113.1V1117.1M385.6,1113.1H395M385.6,1117.1H395M392.3,1114.3V1118.3M387.6,1114.3H397M387.6,1118.3H397M395.4,1116.3V1121.3M390.7,1116.3H400.1M390.7,1121.3H400.1M410,1095.2V1102.2M405.3,1095.2H414.7M405.3,1102.2H414.7M439.7,1125.7V1130.7M435,1125.7H444.4M435,1130.7H444.4M469,1108.3V1114.3M464.3,1108.3H473.7M464.3,1114.3H473.7M472.2,1109V1113M467.5,1109H476.9M467.5,1113H476.9M475.6,1107.6V1111.6M470.9,1107.6H480.3M470.9,1111.6H480.3M479.2,1105.8V1109.8M474.5,1105.8H483.9M474.5,1109.8H483.9M483.8,1102.8V1107.8M479.1,1102.8H488.5M479.1,1107.8H488.5M498.7,1093.4V1100.4M494,1093.4H503.4M494,1100.4H503.4M523.9,1095.9V1102.9M519.2,1095.9H528.6M519.2,1102.9H528.6M547.9,1010.5V1026.5M543.2,1010.5H552.6M543.2,1026.5H552.6M567.3,1003.2V1019.2M562.6,1003.2H572M562.6,1019.2H572M572.8,1087.1V1095.1M568.1,1087.1H577.5M568.1,1095.1H577.5M572.8,1100.7V1106.7M568.1,1100.7H577.5M568.1,1106.7H577.5M573.3,1103.2V1109.2M568.6,1103.2H578M568.6,1109.2H578M571.8,1108.3V1114.3M567.1,1108.3H576.5M567.1,1114.3H576.5M576.8,1118.4V1125.4M572.1,1118.4H581.5M572.1,1125.4H581.5M592,1113.3V1119.3M587.3,1113.3H596.7M587.3,1119.3H596.7M621.2,1089.6V1096.6M616.5,1089.6H625.9M616.5,1096.6H625.9M651.2,1097.7V1104.7M646.5,1097.7H655.9M646.5,1104.7H655.9" fill="none" stroke="#1a1a1a" stroke-width="1.4"/>
<polyline points="110.4,1157.4 115.4,1142.8 120.7,1145.3 135.3,1130.9 159.8,1118.1 184.2,979 204.2,924.8 208.7,1105.5 209.2,1112.5 209.2,1115.8 210.7,1133.2 213.7,1141.5 228.4,1129.4 257.8,1136 287.3,1133.5 292.4,1118.3 297.4,1109.3 302,1110.5 316.8,1098.2 341.3,1105.2 370.5,1003.2 385,1015.5 390.3,1098.7 391.6,1101.2 390.3,1115.1 392.3,1116.3 395.4,1118.8 410,1098.7 439.7,1128.2 469,1111.3 472.2,1111 475.6,1109.6 479.2,1107.8 483.8,1105.3 498.7,1096.9 523.9,1099.4 547.9,1018.5 567.3,1011.2 572.8,1091.1 572.8,1103.7 573.3,1106.2 571.8,1111.3 576.8,1121.9 592,1116.3 621.2,1093.1 651.2,1101.2" fill="none" stroke="#843C0C" stroke-width="2.1" stroke-linejoin="round" stroke-linecap="round"/>
<circle cx="110.4" cy="1157.4" r="7.9" fill="#843C0C" fill-opacity="0.5" stroke="#843C0C" stroke-width="2.2"/>
<circle cx="115.4" cy="1142.8" r="7.9" fill="#843C0C" fill-opacity="0.5" stroke="#843C0C" stroke-width="2.2"/>
<circle cx="120.7" cy="1145.3" r="7.9" fill="#843C0C" fill-opacity="0.5" stroke="#843C0C" stroke-width="2.2"/>
<circle cx="135.3" cy="1130.9" r="7.9" fill="#843C0C" fill-opacity="0.5" stroke="#843C0C" stroke-width="2.2"/>
<circle cx="159.8" cy="1118.1" r="7.9" fill="#843C0C" fill-opacity="0.5" stroke="#843C0C" stroke-width="2.2"/>
<circle cx="184.2" cy="979" r="7.9" fill="#843C0C" fill-opacity="0.5" stroke="#843C0C" stroke-width="2.2"/>
<circle cx="204.2" cy="924.8" r="7.9" fill="#843C0C" fill-opacity="0.5" stroke="#843C0C" stroke-width="2.2"/>
<circle cx="208.7" cy="1105.5" r="7.9" fill="none" stroke="#843C0C" stroke-width="2.2"/>
<circle cx="209.2" cy="1112.5" r="7.9" fill="none" stroke="#843C0C" stroke-width="2.2"/>
<circle cx="209.2" cy="1115.8" r="7.9" fill="none" stroke="#843C0C" stroke-width="2.2"/>
<circle cx="210.7" cy="1133.2" r="7.9" fill="none" stroke="#843C0C" stroke-width="2.2"/>
<circle cx="213.7" cy="1141.5" r="7.9" fill="none" stroke="#843C0C" stroke-width="2.2"/>
<circle cx="228.4" cy="1129.4" r="7.9" fill="none" stroke="#843C0C" stroke-width="2.2"/>
<circle cx="257.8" cy="1136" r="7.9" fill="none" stroke="#843C0C" stroke-width="2.2"/>
<circle cx="287.3" cy="1133.5" r="7.9" fill="none" stroke="#843C0C" stroke-width="2.2"/>
<circle cx="292.4" cy="1118.3" r="7.9" fill="#843C0C" fill-opacity="0.5" stroke="#843C0C" stroke-width="2.2"/>
<circle cx="297.4" cy="1109.3" r="7.9" fill="#843C0C" fill-opacity="0.5" stroke="#843C0C" stroke-width="2.2"/>
<circle cx="302" cy="1110.5" r="7.9" fill="#843C0C" fill-opacity="0.5" stroke="#843C0C" stroke-width="2.2"/>
<circle cx="316.8" cy="1098.2" r="7.9" fill="#843C0C" fill-opacity="0.5" stroke="#843C0C" stroke-width="2.2"/>
<circle cx="341.3" cy="1105.2" r="7.9" fill="#843C0C" fill-opacity="0.5" stroke="#843C0C" stroke-width="2.2"/>
<circle cx="370.5" cy="1003.2" r="7.9" fill="#843C0C" fill-opacity="0.5" stroke="#843C0C" stroke-width="2.2"/>
<circle cx="385" cy="1015.5" r="7.9" fill="#843C0C" fill-opacity="0.5" stroke="#843C0C" stroke-width="2.2"/>
<circle cx="390.3" cy="1098.7" r="7.9" fill="none" stroke="#843C0C" stroke-width="2.2"/>
<circle cx="391.6" cy="1101.2" r="7.9" fill="none" stroke="#843C0C" stroke-width="2.2"/>
<circle cx="390.3" cy="1115.1" r="7.9" fill="none" stroke="#843C0C" stroke-width="2.2"/>
<circle cx="392.3" cy="1116.3" r="7.9" fill="none" stroke="#843C0C" stroke-width="2.2"/>
<circle cx="395.4" cy="1118.8" r="7.9" fill="none" stroke="#843C0C" stroke-width="2.2"/>
<circle cx="410" cy="1098.7" r="7.9" fill="none" stroke="#843C0C" stroke-width="2.2"/>
<circle cx="439.7" cy="1128.2" r="7.9" fill="none" stroke="#843C0C" stroke-width="2.2"/>
<circle cx="469" cy="1111.3" r="7.9" fill="none" stroke="#843C0C" stroke-width="2.2"/>
<circle cx="472.2" cy="1111" r="7.9" fill="#843C0C" fill-opacity="0.5" stroke="#843C0C" stroke-width="2.2"/>
<circle cx="475.6" cy="1109.6" r="7.9" fill="#843C0C" fill-opacity="0.5" stroke="#843C0C" stroke-width="2.2"/>
<circle cx="479.2" cy="1107.8" r="7.9" fill="#843C0C" fill-opacity="0.5" stroke="#843C0C" stroke-width="2.2"/>
<circle cx="483.8" cy="1105.3" r="7.9" fill="#843C0C" fill-opacity="0.5" stroke="#843C0C" stroke-width="2.2"/>
<circle cx="498.7" cy="1096.9" r="7.9" fill="#843C0C" fill-opacity="0.5" stroke="#843C0C" stroke-width="2.2"/>
<circle cx="523.9" cy="1099.4" r="7.9" fill="#843C0C" fill-opacity="0.5" stroke="#843C0C" stroke-width="2.2"/>
<circle cx="547.9" cy="1018.5" r="7.9" fill="#843C0C" fill-opacity="0.5" stroke="#843C0C" stroke-width="2.2"/>
<circle cx="567.3" cy="1011.2" r="7.9" fill="#843C0C" fill-opacity="0.5" stroke="#843C0C" stroke-width="2.2"/>
<circle cx="572.8" cy="1091.1" r="7.9" fill="none" stroke="#843C0C" stroke-width="2.2"/>
<circle cx="572.8" cy="1103.7" r="7.9" fill="none" stroke="#843C0C" stroke-width="2.2"/>
<circle cx="573.3" cy="1106.2" r="7.9" fill="none" stroke="#843C0C" stroke-width="2.2"/>
<circle cx="571.8" cy="1111.3" r="7.9" fill="none" stroke="#843C0C" stroke-width="2.2"/>
<circle cx="576.8" cy="1121.9" r="7.9" fill="none" stroke="#843C0C" stroke-width="2.2"/>
<circle cx="592" cy="1116.3" r="7.9" fill="none" stroke="#843C0C" stroke-width="2.2"/>
<circle cx="621.2" cy="1093.1" r="7.9" fill="none" stroke="#843C0C" stroke-width="2.2"/>
<circle cx="651.2" cy="1101.2" r="7.9" fill="none" stroke="#843C0C" stroke-width="2.2"/>
<path d="M953.7,407.5V410.5M949.2,407.5H958.2M949.2,410.5H958.2M958.5,395.9V399.9M954,395.9H963M954,399.9H963M963.5,395.4V399.4M959,395.4H968M959,399.4H968M978.6,369.7V373.7M974.1,369.7H983.1M974.1,373.7H983.1M1003.3,323.6V328.6M998.8,323.6H1007.8M998.8,328.6H1007.8M1028,236.4V243.4M1023.5,236.4H1032.5M1023.5,243.4H1032.5M1048.2,230.1V238.1M1043.7,230.1H1052.7M1043.7,238.1H1052.7M1053.5,271.9V280.9M1049,271.9H1058M1049,280.9H1058M1053.7,325.6V332.6M1049.2,325.6H1058.2M1049.2,332.6H1058.2M1053.7,357.6V363.6M1049.2,357.6H1058.2M1049.2,363.6H1058.2M1054.7,390.9V394.9M1050.2,390.9H1059.2M1050.2,394.9H1059.2M1058.3,393.4V397.4M1053.8,393.4H1062.8M1053.8,397.4H1062.8M1073.1,395.4V398.4M1068.6,395.4H1077.6M1068.6,398.4H1077.6M1102.9,400.2V403.2M1098.4,400.2H1107.4M1098.4,403.2H1107.4M1132.9,400.7V403.7M1128.4,400.7H1137.4M1128.4,403.7H1137.4M1137.4,250.2V258.2M1132.9,250.2H1141.9M1132.9,258.2H1141.9M1143.2,250.7V258.7M1138.7,250.7H1147.7M1138.7,258.7H1147.7M1148,243.9V251.9M1143.5,243.9H1152.5M1143.5,251.9H1152.5M1162.9,218.5V227.5M1158.4,218.5H1167.4M1158.4,227.5H1167.4M1187.8,224.3V232.3M1183.3,224.3H1192.3M1183.3,232.3H1192.3M1217.2,149.2V161.2M1212.7,149.2H1221.7M1212.7,161.2H1221.7M1232.4,152V164M1227.9,152H1236.9M1227.9,164H1236.9M1238.1,199.3V209.3M1233.6,199.3H1242.6M1233.6,209.3H1242.6M1238.3,256.3V266.3M1233.8,256.3H1242.8M1233.8,266.3H1242.8M1240.1,306.7V314.7M1235.6,306.7H1244.6M1235.6,314.7H1244.6M1243.1,264.9V274.9M1238.6,264.9H1247.6M1238.6,274.9H1247.6M1257.5,128.8V146.8M1253,128.8H1262M1253,146.8H1262M1287.5,163.1V177.1M1283,163.1H1292M1283,177.1H1292M1317.5,250.3V264.3M1313,250.3H1322M1313,264.3H1322M1322.5,210.7V222.7M1318,210.7H1327M1318,222.7H1327M1327.5,149.2V165.2M1323,149.2H1332M1323,165.2H1332M1332.3,164.8V178.8M1327.8,164.8H1336.8M1327.8,178.8H1336.8M1347.4,165.1V177.1M1342.9,165.1H1351.9M1342.9,177.1H1351.9M1373.4,144.9V160.9M1368.9,144.9H1377.9M1368.9,160.9H1377.9M1397.8,73.9V93.9M1393.3,73.9H1402.3M1393.3,93.9H1402.3M1417.3,84.7V104.7M1412.8,84.7H1421.8M1412.8,104.7H1421.8M1422.6,159.3V173.3M1418.1,159.3H1427.1M1418.1,173.3H1427.1M1422.3,169.1V183.1M1417.8,169.1H1426.8M1417.8,183.1H1426.8M1422.8,183V197M1418.3,183H1427.3M1418.3,197H1427.3M1424.3,232.1V246.1M1419.8,232.1H1428.8M1419.8,246.1H1428.8M1427.1,223.3V237.3M1422.6,223.3H1431.6M1422.6,237.3H1431.6M1442.2,180.2V194.2M1437.7,180.2H1446.7M1437.7,194.2H1446.7M1472,105.9V124.9M1467.5,105.9H1476.5M1467.5,124.9H1476.5M1502.5,89.7V109.7M1498,89.7H1507M1498,109.7H1507" fill="none" stroke="#000" stroke-width="2"/>
<path d="M949.1,409H958.3M949.1,404.4V413.6M958.3,404.4V413.6M953.9,397.9H963.1M953.9,393.3V402.5M963.1,393.3V402.5M958.9,397.4H968.1M958.9,392.8V402M968.1,392.8V402M974,371.7H983.2M974,367.1V376.3M983.2,367.1V376.3M998.7,326.1H1007.9M998.7,321.5V330.7M1007.9,321.5V330.7M1023.4,239.9H1032.6M1023.4,235.3V244.5M1032.6,235.3V244.5M1043.6,234.1H1052.8M1043.6,229.5V238.7M1052.8,229.5V238.7M1048.9,276.4H1058.1M1048.9,271.8V281M1058.1,271.8V281M1049.1,329.1H1058.3M1049.1,324.5V333.7M1058.3,324.5V333.7M1049.1,360.6H1058.3M1049.1,356V365.2M1058.3,356V365.2M1050.1,392.9H1059.3M1050.1,388.3V397.5M1059.3,388.3V397.5M1053.7,395.4H1062.9M1053.7,390.8V400M1062.9,390.8V400M1068.5,396.9H1077.7M1068.5,392.3V401.5M1077.7,392.3V401.5M1098.3,401.7H1107.5M1098.3,397.1V406.3M1107.5,397.1V406.3M1128.3,402.2H1137.5M1128.3,397.6V406.8M1137.5,397.6V406.8M1132.8,254.2H1142M1132.8,249.6V258.8M1142,249.6V258.8M1138.6,254.7H1147.8M1138.6,250.1V259.3M1147.8,250.1V259.3M1143.4,247.9H1152.6M1143.4,243.3V252.5M1152.6,243.3V252.5M1158.3,223H1167.5M1158.3,218.4V227.6M1167.5,218.4V227.6M1183.2,228.3H1192.4M1183.2,223.7V232.9M1192.4,223.7V232.9M1212.6,155.2H1221.8M1212.6,150.6V159.8M1221.8,150.6V159.8M1227.8,158H1237M1227.8,153.4V162.6M1237,153.4V162.6M1233.5,204.3H1242.7M1233.5,199.7V208.9M1242.7,199.7V208.9M1233.7,261.3H1242.9M1233.7,256.7V265.9M1242.9,256.7V265.9M1235.5,310.7H1244.7M1235.5,306.1V315.3M1244.7,306.1V315.3M1238.5,269.9H1247.7M1238.5,265.3V274.5M1247.7,265.3V274.5M1252.9,137.8H1262.1M1252.9,133.2V142.4M1262.1,133.2V142.4M1282.9,170.1H1292.1M1282.9,165.5V174.7M1292.1,165.5V174.7M1312.9,257.3H1322.1M1312.9,252.7V261.9M1322.1,252.7V261.9M1317.9,216.7H1327.1M1317.9,212.1V221.3M1327.1,212.1V221.3M1322.9,157.2H1332.1M1322.9,152.6V161.8M1332.1,152.6V161.8M1327.7,171.8H1336.9M1327.7,167.2V176.4M1336.9,167.2V176.4M1342.8,171.1H1352M1342.8,166.5V175.7M1352,166.5V175.7M1368.8,152.9H1378M1368.8,148.3V157.5M1378,148.3V157.5M1393.2,83.9H1402.4M1393.2,79.3V88.5M1402.4,79.3V88.5M1412.7,94.7H1421.9M1412.7,90.1V99.3M1421.9,90.1V99.3M1418,166.3H1427.2M1418,161.7V170.9M1427.2,161.7V170.9M1417.7,176.1H1426.9M1417.7,171.5V180.7M1426.9,171.5V180.7M1418.2,190H1427.4M1418.2,185.4V194.6M1427.4,185.4V194.6M1419.7,239.1H1428.9M1419.7,234.5V243.7M1428.9,234.5V243.7M1422.5,230.3H1431.7M1422.5,225.7V234.9M1431.7,225.7V234.9M1437.6,187.2H1446.8M1437.6,182.6V191.8M1446.8,182.6V191.8M1467.4,115.4H1476.6M1467.4,110.8V120M1476.6,110.8V120M1497.9,99.7H1507.1M1497.9,95.1V104.3M1507.1,95.1V104.3" fill="none" stroke="#888" stroke-width="0.7"/>
<polyline points="953.7,409 958.5,397.9 963.5,397.4 978.6,371.7 1003.3,326.1 1028,239.9 1048.2,234.1 1053.5,276.4 1053.7,329.1 1053.7,360.6 1054.7,392.9 1058.3,395.4 1073.1,396.9 1102.9,401.7 1132.9,402.2 1137.4,254.2 1143.2,254.7 1148,247.9 1162.9,223 1187.8,228.3 1217.2,155.2 1232.4,158 1238.1,204.3 1238.3,261.3 1240.1,310.7 1243.1,269.9 1257.5,137.8 1287.5,170.1 1317.5,257.3 1322.5,216.7 1327.5,157.2 1332.3,171.8 1347.4,171.1 1373.4,152.9 1397.8,83.9 1417.3,94.7 1422.6,166.3 1422.3,176.1 1422.8,190 1424.3,239.1 1427.1,230.3 1442.2,187.2 1472,115.4 1502.5,99.7" fill="none" stroke="#FF0000" stroke-width="2.2" stroke-linejoin="round" stroke-linecap="round"/>
<circle cx="953.7" cy="409" r="7.9" fill="#FF0000" fill-opacity="0.5" stroke="#FF0000" stroke-width="2.2"/>
<circle cx="958.5" cy="397.9" r="7.9" fill="#FF0000" fill-opacity="0.5" stroke="#FF0000" stroke-width="2.2"/>
<circle cx="963.5" cy="397.4" r="7.9" fill="#FF0000" fill-opacity="0.5" stroke="#FF0000" stroke-width="2.2"/>
<circle cx="978.6" cy="371.7" r="7.9" fill="#FF0000" fill-opacity="0.5" stroke="#FF0000" stroke-width="2.2"/>
<circle cx="1003.3" cy="326.1" r="7.9" fill="#FF0000" fill-opacity="0.5" stroke="#FF0000" stroke-width="2.2"/>
<circle cx="1028" cy="239.9" r="7.9" fill="#FF0000" fill-opacity="0.5" stroke="#FF0000" stroke-width="2.2"/>
<circle cx="1048.2" cy="234.1" r="7.9" fill="#FF0000" fill-opacity="0.5" stroke="#FF0000" stroke-width="2.2"/>
<circle cx="1053.5" cy="276.4" r="7.9" fill="none" stroke="#FF0000" stroke-width="2.2"/>
<circle cx="1053.7" cy="329.1" r="7.9" fill="none" stroke="#FF0000" stroke-width="2.2"/>
<circle cx="1053.7" cy="360.6" r="7.9" fill="none" stroke="#FF0000" stroke-width="2.2"/>
<circle cx="1054.7" cy="392.9" r="7.9" fill="none" stroke="#FF0000" stroke-width="2.2"/>
<circle cx="1058.3" cy="395.4" r="7.9" fill="none" stroke="#FF0000" stroke-width="2.2"/>
<circle cx="1073.1" cy="396.9" r="7.9" fill="none" stroke="#FF0000" stroke-width="2.2"/>
<circle cx="1102.9" cy="401.7" r="7.9" fill="none" stroke="#FF0000" stroke-width="2.2"/>
<circle cx="1132.9" cy="402.2" r="7.9" fill="none" stroke="#FF0000" stroke-width="2.2"/>
<circle cx="1137.4" cy="254.2" r="7.9" fill="#FF0000" fill-opacity="0.5" stroke="#FF0000" stroke-width="2.2"/>
<circle cx="1143.2" cy="254.7" r="7.9" fill="#FF0000" fill-opacity="0.5" stroke="#FF0000" stroke-width="2.2"/>
<circle cx="1148" cy="247.9" r="7.9" fill="#FF0000" fill-opacity="0.5" stroke="#FF0000" stroke-width="2.2"/>
<circle cx="1162.9" cy="223" r="7.9" fill="#FF0000" fill-opacity="0.5" stroke="#FF0000" stroke-width="2.2"/>
<circle cx="1187.8" cy="228.3" r="7.9" fill="#FF0000" fill-opacity="0.5" stroke="#FF0000" stroke-width="2.2"/>
<circle cx="1217.2" cy="155.2" r="7.9" fill="#FF0000" fill-opacity="0.5" stroke="#FF0000" stroke-width="2.2"/>
<circle cx="1232.4" cy="158" r="7.9" fill="#FF0000" fill-opacity="0.5" stroke="#FF0000" stroke-width="2.2"/>
<circle cx="1238.1" cy="204.3" r="7.9" fill="none" stroke="#FF0000" stroke-width="2.2"/>
<circle cx="1238.3" cy="261.3" r="7.9" fill="none" stroke="#FF0000" stroke-width="2.2"/>
<circle cx="1240.1" cy="310.7" r="7.9" fill="none" stroke="#FF0000" stroke-width="2.2"/>
<circle cx="1243.1" cy="269.9" r="7.9" fill="none" stroke="#FF0000" stroke-width="2.2"/>
<circle cx="1257.5" cy="137.8" r="7.9" fill="none" stroke="#FF0000" stroke-width="2.2"/>
<circle cx="1287.5" cy="170.1" r="7.9" fill="none" stroke="#FF0000" stroke-width="2.2"/>
<circle cx="1317.5" cy="257.3" r="7.9" fill="none" stroke="#FF0000" stroke-width="2.2"/>
<circle cx="1322.5" cy="216.7" r="7.9" fill="#FF0000" fill-opacity="0.5" stroke="#FF0000" stroke-width="2.2"/>
<circle cx="1327.5" cy="157.2" r="7.9" fill="#FF0000" fill-opacity="0.5" stroke="#FF0000" stroke-width="2.2"/>
<circle cx="1332.3" cy="171.8" r="7.9" fill="#FF0000" fill-opacity="0.5" stroke="#FF0000" stroke-width="2.2"/>
<circle cx="1347.4" cy="171.1" r="7.9" fill="#FF0000" fill-opacity="0.5" stroke="#FF0000" stroke-width="2.2"/>
<circle cx="1373.4" cy="152.9" r="7.9" fill="#FF0000" fill-opacity="0.5" stroke="#FF0000" stroke-width="2.2"/>
<circle cx="1397.8" cy="83.9" r="7.9" fill="#FF0000" fill-opacity="0.5" stroke="#FF0000" stroke-width="2.2"/>
<circle cx="1417.3" cy="94.7" r="7.9" fill="#FF0000" fill-opacity="0.5" stroke="#FF0000" stroke-width="2.2"/>
<circle cx="1422.6" cy="166.3" r="7.9" fill="none" stroke="#FF0000" stroke-width="2.2"/>
<circle cx="1422.3" cy="176.1" r="7.9" fill="none" stroke="#FF0000" stroke-width="2.2"/>
<circle cx="1422.8" cy="190" r="7.9" fill="none" stroke="#FF0000" stroke-width="2.2"/>
<circle cx="1424.3" cy="239.1" r="7.9" fill="none" stroke="#FF0000" stroke-width="2.2"/>
<circle cx="1427.1" cy="230.3" r="7.9" fill="none" stroke="#FF0000" stroke-width="2.2"/>
<circle cx="1442.2" cy="187.2" r="7.9" fill="none" stroke="#FF0000" stroke-width="2.2"/>
<circle cx="1472" cy="115.4" r="7.9" fill="none" stroke="#FF0000" stroke-width="2.2"/>
<circle cx="1502.5" cy="99.7" r="7.9" fill="none" stroke="#FF0000" stroke-width="2.2"/>
<path d="M954.2,807.1V809.1M949.7,807.1H958.7M949.7,809.1H958.7M959.2,802V804M954.7,802H963.7M954.7,804H963.7M964.3,799.5V802.5M959.8,799.5H968.8M959.8,802.5H968.8M979.4,780.9V784.9M974.9,780.9H983.9M974.9,784.9H983.9M1004.1,752.6V758.6M999.6,752.6H1008.6M999.6,758.6H1008.6M1028.8,689.9V701.9M1024.3,689.9H1033.3M1024.3,701.9H1033.3M1048.7,654.9V670.9M1044.2,654.9H1053.2M1044.2,670.9H1053.2M1053.7,743.6V751.6M1049.2,743.6H1058.2M1049.2,751.6H1058.2M1053.7,751.6V759.6M1049.2,751.6H1058.2M1049.2,759.6H1058.2M1054.2,793V797M1049.7,793H1058.7M1049.7,797H1058.7M1056.3,802.8V805.8M1051.8,802.8H1060.8M1051.8,805.8H1060.8M1058.8,804V807M1054.3,804H1063.3M1054.3,807H1063.3M1073.4,797.2V800.2M1068.9,797.2H1077.9M1068.9,800.2H1077.9M1103.4,802V804M1098.9,802H1107.9M1098.9,804H1107.9M1132.9,803V805M1128.4,803H1137.4M1128.4,805H1137.4M1137.9,686.6V698.6M1133.4,686.6H1142.4M1133.4,698.6H1142.4M1142.5,668V682M1138,668H1147M1138,682H1147M1148,665V679M1143.5,665H1152.5M1143.5,679H1152.5M1162.9,655.6V671.6M1158.4,655.6H1167.4M1158.4,671.6H1167.4M1187.6,649.3V665.3M1183.1,649.3H1192.1M1183.1,665.3H1192.1M1217.1,575.8V597.8M1212.6,575.8H1221.6M1212.6,597.8H1221.6M1232,579.2V601.2M1227.5,579.2H1236.5M1227.5,601.2H1236.5M1237.6,609.5V627.5M1233.1,609.5H1242.1M1233.1,627.5H1242.1M1237.6,629.4V645.4M1233.1,629.4H1242.1M1233.1,645.4H1242.1M1237.6,672.8V684.8M1233.1,672.8H1242.1M1233.1,684.8H1242.1M1239.6,734V742M1235.1,734H1244.1M1235.1,742H1244.1M1242.8,672.3V684.3M1238.3,672.3H1247.3M1238.3,684.3H1247.3M1257,655.4V667.4M1252.5,655.4H1261.5M1252.5,667.4H1261.5M1287,695.2V707.2M1282.5,695.2H1291.5M1282.5,707.2H1291.5M1316.4,665.5V677.5M1311.9,665.5H1320.9M1311.9,677.5H1320.9M1321.5,581.6V603.6M1317,581.6H1326M1317,603.6H1326M1326.3,556.4V580.4M1321.8,556.4H1330.8M1321.8,580.4H1330.8M1331.3,584.1V606.1M1326.8,584.1H1335.8M1326.8,606.1H1335.8M1346.2,544V569M1341.7,544H1350.7M1341.7,569H1350.7M1372.2,537.5V563.5M1367.7,537.5H1376.7M1367.7,563.5H1376.7M1396.1,520.6V548.6M1391.6,520.6H1400.6M1391.6,548.6H1400.6M1415.5,508.3V537.3M1411,508.3H1420M1411,537.3H1420M1420.8,580.6V602.6M1416.3,580.6H1425.3M1416.3,602.6H1425.3M1421.8,637.2V645.2M1417.3,637.2H1426.3M1417.3,645.2H1426.3M1423.8,638.2V646.2M1419.3,638.2H1428.3M1419.3,646.2H1428.3M1440.2,578.8V601.8M1435.7,578.8H1444.7M1435.7,601.8H1444.7M1469.9,568.7V591.7M1465.4,568.7H1474.4M1465.4,591.7H1474.4M1500.4,485.1V516.1M1495.9,485.1H1504.9M1495.9,516.1H1504.9" fill="none" stroke="#000" stroke-width="2"/>
<path d="M949.6,808.1H958.8M949.6,803.5V812.7M958.8,803.5V812.7M954.6,803H963.8M954.6,798.4V807.6M963.8,798.4V807.6M959.7,801H968.9M959.7,796.4V805.6M968.9,796.4V805.6M974.8,782.9H984M974.8,778.3V787.5M984,778.3V787.5M999.5,755.6H1008.7M999.5,751V760.2M1008.7,751V760.2M1024.2,695.9H1033.4M1024.2,691.3V700.5M1033.4,691.3V700.5M1044.1,662.9H1053.3M1044.1,658.3V667.5M1053.3,658.3V667.5M1049.1,747.6H1058.3M1049.1,743V752.2M1058.3,743V752.2M1049.1,755.6H1058.3M1049.1,751V760.2M1058.3,751V760.2M1049.6,795H1058.8M1049.6,790.4V799.6M1058.8,790.4V799.6M1051.7,804.3H1060.9M1051.7,799.7V808.9M1060.9,799.7V808.9M1054.2,805.5H1063.4M1054.2,800.9V810.1M1063.4,800.9V810.1M1068.8,798.7H1078M1068.8,794.1V803.3M1078,794.1V803.3M1098.8,803H1108M1098.8,798.4V807.6M1108,798.4V807.6M1128.3,804H1137.5M1128.3,799.4V808.6M1137.5,799.4V808.6M1133.3,692.6H1142.5M1133.3,688V697.2M1142.5,688V697.2M1137.9,675H1147.1M1137.9,670.4V679.6M1147.1,670.4V679.6M1143.4,672H1152.6M1143.4,667.4V676.6M1152.6,667.4V676.6M1158.3,663.6H1167.5M1158.3,659V668.2M1167.5,659V668.2M1183,657.3H1192.2M1183,652.7V661.9M1192.2,652.7V661.9M1212.5,586.8H1221.7M1212.5,582.2V591.4M1221.7,582.2V591.4M1227.4,590.2H1236.6M1227.4,585.6V594.8M1236.6,585.6V594.8M1233,618.5H1242.2M1233,613.9V623.1M1242.2,613.9V623.1M1233,637.4H1242.2M1233,632.8V642M1242.2,632.8V642M1233,678.8H1242.2M1233,674.2V683.4M1242.2,674.2V683.4M1235,738H1244.2M1235,733.4V742.6M1244.2,733.4V742.6M1238.2,678.3H1247.4M1238.2,673.7V682.9M1247.4,673.7V682.9M1252.4,661.4H1261.6M1252.4,656.8V666M1261.6,656.8V666M1282.4,701.2H1291.6M1282.4,696.6V705.8M1291.6,696.6V705.8M1311.8,671.5H1321M1311.8,666.9V676.1M1321,666.9V676.1M1316.9,592.6H1326.1M1316.9,588V597.2M1326.1,588V597.2M1321.7,568.4H1330.9M1321.7,563.8V573M1330.9,563.8V573M1326.7,595.1H1335.9M1326.7,590.5V599.7M1335.9,590.5V599.7M1341.6,556.5H1350.8M1341.6,551.9V561.1M1350.8,551.9V561.1M1367.6,550.5H1376.8M1367.6,545.9V555.1M1376.8,545.9V555.1M1391.5,534.6H1400.7M1391.5,530V539.2M1400.7,530V539.2M1410.9,522.8H1420.1M1410.9,518.2V527.4M1420.1,518.2V527.4M1416.2,591.6H1425.4M1416.2,587V596.2M1425.4,587V596.2M1417.2,641.2H1426.4M1417.2,636.6V645.8M1426.4,636.6V645.8M1419.2,642.2H1428.4M1419.2,637.6V646.8M1428.4,637.6V646.8M1435.6,590.3H1444.8M1435.6,585.7V594.9M1444.8,585.7V594.9M1465.3,580.2H1474.5M1465.3,575.6V584.8M1474.5,575.6V584.8M1495.8,500.6H1505M1495.8,496V505.2M1505,496V505.2" fill="none" stroke="#888" stroke-width="0.7"/>
<polyline points="954.2,808.1 959.2,803 964.3,801 979.4,782.9 1004.1,755.6 1028.8,695.9 1048.7,662.9 1053.7,747.6 1053.7,755.6 1054.2,795 1056.3,804.3 1058.8,805.5 1073.4,798.7 1103.4,803 1132.9,804 1137.9,692.6 1142.5,675 1148,672 1162.9,663.6 1187.6,657.3 1217.1,586.8 1232,590.2 1237.6,618.5 1237.6,637.4 1237.6,678.8 1239.6,738 1242.8,678.3 1257,661.4 1287,701.2 1316.4,671.5 1321.5,592.6 1326.3,568.4 1331.3,595.1 1346.2,556.5 1372.2,550.5 1396.1,534.6 1415.5,522.8 1420.8,591.6 1421.8,641.2 1423.8,642.2 1440.2,590.3 1469.9,580.2 1500.4,500.6" fill="none" stroke="#FFC000" stroke-width="2.2" stroke-linejoin="round" stroke-linecap="round"/>
<circle cx="954.2" cy="808.1" r="7.9" fill="#FFC000" fill-opacity="0.5" stroke="#FFC000" stroke-width="2.2"/>
<circle cx="959.2" cy="803" r="7.9" fill="#FFC000" fill-opacity="0.5" stroke="#FFC000" stroke-width="2.2"/>
<circle cx="964.3" cy="801" r="7.9" fill="#FFC000" fill-opacity="0.5" stroke="#FFC000" stroke-width="2.2"/>
<circle cx="979.4" cy="782.9" r="7.9" fill="#FFC000" fill-opacity="0.5" stroke="#FFC000" stroke-width="2.2"/>
<circle cx="1004.1" cy="755.6" r="7.9" fill="#FFC000" fill-opacity="0.5" stroke="#FFC000" stroke-width="2.2"/>
<circle cx="1028.8" cy="695.9" r="7.9" fill="#FFC000" fill-opacity="0.5" stroke="#FFC000" stroke-width="2.2"/>
<circle cx="1048.7" cy="662.9" r="7.9" fill="#FFC000" fill-opacity="0.5" stroke="#FFC000" stroke-width="2.2"/>
<circle cx="1053.7" cy="747.6" r="7.9" fill="none" stroke="#FFC000" stroke-width="2.2"/>
<circle cx="1053.7" cy="755.6" r="7.9" fill="none" stroke="#FFC000" stroke-width="2.2"/>
<circle cx="1054.2" cy="795" r="7.9" fill="none" stroke="#FFC000" stroke-width="2.2"/>
<circle cx="1056.3" cy="804.3" r="7.9" fill="none" stroke="#FFC000" stroke-width="2.2"/>
<circle cx="1058.8" cy="805.5" r="7.9" fill="none" stroke="#FFC000" stroke-width="2.2"/>
<circle cx="1073.4" cy="798.7" r="7.9" fill="none" stroke="#FFC000" stroke-width="2.2"/>
<circle cx="1103.4" cy="803" r="7.9" fill="none" stroke="#FFC000" stroke-width="2.2"/>
<circle cx="1132.9" cy="804" r="7.9" fill="none" stroke="#FFC000" stroke-width="2.2"/>
<circle cx="1137.9" cy="692.6" r="7.9" fill="#FFC000" fill-opacity="0.5" stroke="#FFC000" stroke-width="2.2"/>
<circle cx="1142.5" cy="675" r="7.9" fill="#FFC000" fill-opacity="0.5" stroke="#FFC000" stroke-width="2.2"/>
<circle cx="1148" cy="672" r="7.9" fill="#FFC000" fill-opacity="0.5" stroke="#FFC000" stroke-width="2.2"/>
<circle cx="1162.9" cy="663.6" r="7.9" fill="#FFC000" fill-opacity="0.5" stroke="#FFC000" stroke-width="2.2"/>
<circle cx="1187.6" cy="657.3" r="7.9" fill="#FFC000" fill-opacity="0.5" stroke="#FFC000" stroke-width="2.2"/>
<circle cx="1217.1" cy="586.8" r="7.9" fill="#FFC000" fill-opacity="0.5" stroke="#FFC000" stroke-width="2.2"/>
<circle cx="1232" cy="590.2" r="7.9" fill="#FFC000" fill-opacity="0.5" stroke="#FFC000" stroke-width="2.2"/>
<circle cx="1237.6" cy="618.5" r="7.9" fill="none" stroke="#FFC000" stroke-width="2.2"/>
<circle cx="1237.6" cy="637.4" r="7.9" fill="none" stroke="#FFC000" stroke-width="2.2"/>
<circle cx="1237.6" cy="678.8" r="7.9" fill="none" stroke="#FFC000" stroke-width="2.2"/>
<circle cx="1239.6" cy="738" r="7.9" fill="none" stroke="#FFC000" stroke-width="2.2"/>
<circle cx="1242.8" cy="678.3" r="7.9" fill="none" stroke="#FFC000" stroke-width="2.2"/>
<circle cx="1257" cy="661.4" r="7.9" fill="none" stroke="#FFC000" stroke-width="2.2"/>
<circle cx="1287" cy="701.2" r="7.9" fill="none" stroke="#FFC000" stroke-width="2.2"/>
<circle cx="1316.4" cy="671.5" r="7.9" fill="none" stroke="#FFC000" stroke-width="2.2"/>
<circle cx="1321.5" cy="592.6" r="7.9" fill="#FFC000" fill-opacity="0.5" stroke="#FFC000" stroke-width="2.2"/>
<circle cx="1326.3" cy="568.4" r="7.9" fill="#FFC000" fill-opacity="0.5" stroke="#FFC000" stroke-width="2.2"/>
<circle cx="1331.3" cy="595.1" r="7.9" fill="#FFC000" fill-opacity="0.5" stroke="#FFC000" stroke-width="2.2"/>
<circle cx="1346.2" cy="556.5" r="7.9" fill="#FFC000" fill-opacity="0.5" stroke="#FFC000" stroke-width="2.2"/>
<circle cx="1372.2" cy="550.5" r="7.9" fill="#FFC000" fill-opacity="0.5" stroke="#FFC000" stroke-width="2.2"/>
<circle cx="1396.1" cy="534.6" r="7.9" fill="#FFC000" fill-opacity="0.5" stroke="#FFC000" stroke-width="2.2"/>
<circle cx="1415.5" cy="522.8" r="7.9" fill="#FFC000" fill-opacity="0.5" stroke="#FFC000" stroke-width="2.2"/>
<circle cx="1420.8" cy="591.6" r="7.9" fill="none" stroke="#FFC000" stroke-width="2.2"/>
<circle cx="1421.8" cy="641.2" r="7.9" fill="none" stroke="#FFC000" stroke-width="2.2"/>
<circle cx="1423.8" cy="642.2" r="7.9" fill="none" stroke="#FFC000" stroke-width="2.2"/>
<circle cx="1440.2" cy="590.3" r="7.9" fill="none" stroke="#FFC000" stroke-width="2.2"/>
<circle cx="1469.9" cy="580.2" r="7.9" fill="none" stroke="#FFC000" stroke-width="2.2"/>
<circle cx="1500.4" cy="500.6" r="7.9" fill="none" stroke="#FFC000" stroke-width="2.2"/>
<path d="M954.2,900.3V959.3M949.7,900.3H958.7M949.7,959.3H958.7M959.2,938V997.2M954.7,938H963.7M954.7,997.2H963.7M964,960.3V987.5M959.5,960.3H968.5M959.5,987.5H968.5M978.9,965.1V992.9M974.4,965.1H983.4M974.4,992.9H983.4M1003.8,949.9V987.9M999.3,949.9H1008.3M999.3,987.9H1008.3M1028.5,937.8V965.6M1024,937.8H1033M1024,965.6H1033M1048.4,941.3V971.3M1043.9,941.3H1052.9M1043.9,971.3H1052.9M1053.7,920.7V980.7M1049.2,920.7H1058.2M1049.2,980.7H1058.2M1054,1062.3V1102.3M1049.5,1062.3H1058.5M1049.5,1102.3H1058.5M1054,1076.4V1108.4M1049.5,1076.4H1058.5M1049.5,1108.4H1058.5M1056.3,898.9V928.9M1051.8,898.9H1060.8M1051.8,928.9H1060.8M1058.8,899.2V929.2M1054.3,899.2H1063.3M1054.3,929.2H1063.3M1073.9,882.3V912.3M1069.4,882.3H1078.4M1069.4,912.3H1078.4M1103.4,886.8V916.8M1098.9,886.8H1107.9M1098.9,916.8H1107.9M1133.1,857.1V887.1M1128.6,857.1H1137.6M1128.6,887.1H1137.6M1138.4,960.2V990.2M1133.9,960.2H1142.9M1133.9,990.2H1142.9M1143.2,900.9V930.9M1138.7,900.9H1147.7M1138.7,930.9H1147.7M1148,924.9V954.9M1143.5,924.9H1152.5M1143.5,954.9H1152.5M1163.6,898.4V928.4M1159.1,898.4H1168.1M1159.1,928.4H1168.1M1188.1,899.9V929.9M1183.6,899.9H1192.6M1183.6,929.9H1192.6M1217.5,901.1V941.9M1213,901.1H1222M1213,941.9H1222M1232.6,913.2V954M1228.1,913.2H1237.1M1228.1,954H1237.1M1238.3,908V948M1233.8,908H1242.8M1233.8,948H1242.8M1238.6,1005.7V1032.9M1234.1,1005.7H1243.1M1234.1,1032.9H1243.1M1239.8,1094.9V1122.7M1235.3,1094.9H1244.3M1235.3,1122.7H1244.3M1238.3,1102.3V1130.3M1233.8,1102.3H1242.8M1233.8,1130.3H1242.8M1242.8,1057.1V1084.9M1238.3,1057.1H1247.3M1238.3,1084.9H1247.3M1258,968V1010M1253.5,968H1262.5M1253.5,1010H1262.5M1287.7,955.8V1003.2M1283.2,955.8H1292.2M1283.2,1003.2H1292.2M1317.7,985.6V1013.6M1313.2,985.6H1322.2M1313.2,1013.6H1322.2M1322.7,1005.4V1071.4M1318.2,1005.4H1327.2M1318.2,1071.4H1327.2M1328,889.9V917.7M1323.5,889.9H1332.5M1323.5,917.7H1332.5M1332.3,892V919.8M1327.8,892H1336.8M1327.8,919.8H1336.8M1348,884.3V912.3M1343.5,884.3H1352.5M1343.5,912.3H1352.5M1373.4,887.3V915.3M1368.9,887.3H1377.9M1368.9,915.3H1377.9M1397.9,896.4V924.4M1393.4,896.4H1402.4M1393.4,924.4H1402.4M1417.3,885.4V937.4M1412.8,885.4H1421.8M1412.8,937.4H1421.8M1422.6,900.1V973.1M1418.1,900.1H1427.1M1418.1,973.1H1427.1M1422.6,951.6V978.6M1418.1,951.6H1427.1M1418.1,978.6H1427.1M1422.6,957.5V985.3M1418.1,957.5H1427.1M1418.1,985.3H1427.1M1424.3,1013.8V1081.8M1419.8,1013.8H1428.8M1419.8,1081.8H1428.8M1427.1,1048.9V1076.9M1422.6,1048.9H1431.6M1422.6,1076.9H1431.6M1442.2,952.7V980.5M1437.7,952.7H1446.7M1437.7,980.5H1446.7M1472,914.1V941.9M1467.5,914.1H1476.5M1467.5,941.9H1476.5M1502.7,905.4V954.8M1498.2,905.4H1507.2M1498.2,954.8H1507.2" fill="none" stroke="#000" stroke-width="2"/>
<polyline points="954.2,929.8 959.2,967.6 964,973.9 978.9,979 1003.8,968.9 1028.5,951.7 1048.4,956.3 1053.7,950.7 1054,1082.3 1054,1092.4 1056.3,913.9 1058.8,914.2 1073.9,897.3 1103.4,901.8 1133.1,872.1 1138.4,975.2 1143.2,915.9 1148,939.9 1163.6,913.4 1188.1,914.9 1217.5,921.5 1232.6,933.6 1238.3,928 1238.6,1019.3 1239.8,1108.8 1238.3,1116.3 1242.8,1071 1258,989 1287.7,979.5 1317.7,999.6 1322.7,1038.4 1328,903.8 1332.3,905.9 1348,898.3 1373.4,901.3 1397.9,910.4 1417.3,911.4 1422.6,936.6 1422.6,965.1 1422.6,971.4 1424.3,1047.8 1427.1,1062.9 1442.2,966.6 1472,928 1502.7,930.1" fill="none" stroke="#FF6600" stroke-width="2.1" stroke-linejoin="round" stroke-linecap="round"/>
<circle cx="954.2" cy="929.8" r="7.9" fill="#FF6600" fill-opacity="0.5" stroke="#FF6600" stroke-width="2.2"/>
<circle cx="959.2" cy="967.6" r="7.9" fill="#FF6600" fill-opacity="0.5" stroke="#FF6600" stroke-width="2.2"/>
<circle cx="964" cy="973.9" r="7.9" fill="#FF6600" fill-opacity="0.5" stroke="#FF6600" stroke-width="2.2"/>
<circle cx="978.9" cy="979" r="7.9" fill="#FF6600" fill-opacity="0.5" stroke="#FF6600" stroke-width="2.2"/>
<circle cx="1003.8" cy="968.9" r="7.9" fill="#FF6600" fill-opacity="0.5" stroke="#FF6600" stroke-width="2.2"/>
<circle cx="1028.5" cy="951.7" r="7.9" fill="#FF6600" fill-opacity="0.5" stroke="#FF6600" stroke-width="2.2"/>
<circle cx="1048.4" cy="956.3" r="7.9" fill="#FF6600" fill-opacity="0.5" stroke="#FF6600" stroke-width="2.2"/>
<circle cx="1053.7" cy="950.7" r="7.9" fill="none" stroke="#FF6600" stroke-width="2.2"/>
<circle cx="1054" cy="1082.3" r="7.9" fill="none" stroke="#FF6600" stroke-width="2.2"/>
<circle cx="1054" cy="1092.4" r="7.9" fill="none" stroke="#FF6600" stroke-width="2.2"/>
<circle cx="1056.3" cy="913.9" r="7.9" fill="none" stroke="#FF6600" stroke-width="2.2"/>
<circle cx="1058.8" cy="914.2" r="7.9" fill="none" stroke="#FF6600" stroke-width="2.2"/>
<circle cx="1073.9" cy="897.3" r="7.9" fill="none" stroke="#FF6600" stroke-width="2.2"/>
<circle cx="1103.4" cy="901.8" r="7.9" fill="none" stroke="#FF6600" stroke-width="2.2"/>
<circle cx="1133.1" cy="872.1" r="7.9" fill="none" stroke="#FF6600" stroke-width="2.2"/>
<circle cx="1138.4" cy="975.2" r="7.9" fill="#FF6600" fill-opacity="0.5" stroke="#FF6600" stroke-width="2.2"/>
<circle cx="1143.2" cy="915.9" r="7.9" fill="#FF6600" fill-opacity="0.5" stroke="#FF6600" stroke-width="2.2"/>
<circle cx="1148" cy="939.9" r="7.9" fill="#FF6600" fill-opacity="0.5" stroke="#FF6600" stroke-width="2.2"/>
<circle cx="1163.6" cy="913.4" r="7.9" fill="#FF6600" fill-opacity="0.5" stroke="#FF6600" stroke-width="2.2"/>
<circle cx="1188.1" cy="914.9" r="7.9" fill="#FF6600" fill-opacity="0.5" stroke="#FF6600" stroke-width="2.2"/>
<circle cx="1217.5" cy="921.5" r="7.9" fill="#FF6600" fill-opacity="0.5" stroke="#FF6600" stroke-width="2.2"/>
<circle cx="1232.6" cy="933.6" r="7.9" fill="#FF6600" fill-opacity="0.5" stroke="#FF6600" stroke-width="2.2"/>
<circle cx="1238.3" cy="928" r="7.9" fill="none" stroke="#FF6600" stroke-width="2.2"/>
<circle cx="1238.6" cy="1019.3" r="7.9" fill="none" stroke="#FF6600" stroke-width="2.2"/>
<circle cx="1239.8" cy="1108.8" r="7.9" fill="none" stroke="#FF6600" stroke-width="2.2"/>
<circle cx="1238.3" cy="1116.3" r="7.9" fill="none" stroke="#FF6600" stroke-width="2.2"/>
<circle cx="1242.8" cy="1071" r="7.9" fill="none" stroke="#FF6600" stroke-width="2.2"/>
<circle cx="1258" cy="989" r="7.9" fill="none" stroke="#FF6600" stroke-width="2.2"/>
<circle cx="1287.7" cy="979.5" r="7.9" fill="none" stroke="#FF6600" stroke-width="2.2"/>
<circle cx="1317.7" cy="999.6" r="7.9" fill="none" stroke="#FF6600" stroke-width="2.2"/>
<circle cx="1322.7" cy="1038.4" r="7.9" fill="#FF6600" fill-opacity="0.5" stroke="#FF6600" stroke-width="2.2"/>
<circle cx="1328" cy="903.8" r="7.9" fill="#FF6600" fill-opacity="0.5" stroke="#FF6600" stroke-width="2.2"/>
<circle cx="1332.3" cy="905.9" r="7.9" fill="#FF6600" fill-opacity="0.5" stroke="#FF6600" stroke-width="2.2"/>
<circle cx="1348" cy="898.3" r="7.9" fill="#FF6600" fill-opacity="0.5" stroke="#FF6600" stroke-width="2.2"/>
<circle cx="1373.4" cy="901.3" r="7.9" fill="#FF6600" fill-opacity="0.5" stroke="#FF6600" stroke-width="2.2"/>
<circle cx="1397.9" cy="910.4" r="7.9" fill="#FF6600" fill-opacity="0.5" stroke="#FF6600" stroke-width="2.2"/>
<circle cx="1417.3" cy="911.4" r="7.9" fill="#FF6600" fill-opacity="0.5" stroke="#FF6600" stroke-width="2.2"/>
<circle cx="1422.6" cy="936.6" r="7.9" fill="none" stroke="#FF6600" stroke-width="2.2"/>
<circle cx="1422.6" cy="965.1" r="7.9" fill="none" stroke="#FF6600" stroke-width="2.2"/>
<circle cx="1422.6" cy="971.4" r="7.9" fill="none" stroke="#FF6600" stroke-width="2.2"/>
<circle cx="1424.3" cy="1047.8" r="7.9" fill="none" stroke="#FF6600" stroke-width="2.2"/>
<circle cx="1427.1" cy="1062.9" r="7.9" fill="none" stroke="#FF6600" stroke-width="2.2"/>
<circle cx="1442.2" cy="966.6" r="7.9" fill="none" stroke="#FF6600" stroke-width="2.2"/>
<circle cx="1472" cy="928" r="7.9" fill="none" stroke="#FF6600" stroke-width="2.2"/>
<circle cx="1502.7" cy="930.1" r="7.9" fill="none" stroke="#FF6600" stroke-width="2.2"/>
<polyline points="112.2,1505.1 116.5,1500.8 122.2,1501.8 137.4,1497 161.3,1493.5 186,1453.7 205.4,1438.3 209.9,1499.5 214.2,1500.8 229.4,1496.8 258.3,1499 287.8,1498.3 292.4,1494 297.4,1491.2 302.5,1491.2 317.1,1487.7 341.5,1490.2 370.5,1460.5 385.5,1464.3 390.1,1493.7 391.8,1488.2 395.6,1494 410.2,1487.7 439.7,1496.8 468.2,1492 474.5,1491.5 498,1487.4 523.2,1488.4 547.6,1465.5 566.5,1463 571.1,1490.7 572.1,1486.4 576.1,1495 590.5,1493 620,1486.4 649.7,1488.7 669.1,1495.8" fill="none" stroke="#843C0C" stroke-width="1.8" stroke-linejoin="round" stroke-linecap="round"/>
<path d="M108.1,1362.9H117.3M108.1,1358.3V1367.5M117.3,1358.3V1367.5M200.8,1499H210M200.8,1494.4V1503.6M210,1494.4V1503.6" fill="none" stroke="#888" stroke-width="0.7"/>
<polyline points="112.7,1362.9 205.4,1499" fill="none" stroke="#000" stroke-width="2" stroke-linejoin="round" stroke-linecap="round"/>
<rect x="104.7" y="1354.9" width="16" height="16" fill="#000" fill-opacity="0.5" stroke="#000" stroke-width="2"/>
<rect x="197.4" y="1491" width="16" height="16" fill="#000" fill-opacity="0.5" stroke="#000" stroke-width="2"/>
<path d="M210.2,1421.9V1425.9M205.6,1421.9H214.8M205.6,1425.9H214.8M287.8,1459.5V1465.5M283.2,1459.5H292.4M283.2,1465.5H292.4" fill="none" stroke="#444" stroke-width="1.5"/>
<path d="M205.6,1423.9H214.8M205.6,1419.3V1428.5M214.8,1419.3V1428.5M283.2,1462.5H292.4M283.2,1457.9V1467.1M292.4,1457.9V1467.1" fill="none" stroke="#888" stroke-width="0.7"/>
<polyline points="210.2,1423.9 287.8,1462.5" fill="none" stroke="#000" stroke-width="2" stroke-linejoin="round" stroke-linecap="round"/>
<rect x="202.2" y="1415.9" width="16" height="16" fill="none" stroke="#000" stroke-width="2"/>
<rect x="279.8" y="1454.5" width="16" height="16" fill="none" stroke="#000" stroke-width="2"/>
<path d="M292.6,1240.1V1279.1M288,1240.1H297.2M288,1279.1H297.2M385.4,1381.2V1411.2M380.8,1381.2H390M380.8,1411.2H390" fill="none" stroke="#444" stroke-width="1.5"/>
<path d="M288,1259.6H297.2M288,1255V1264.2M297.2,1255V1264.2M380.8,1396.2H390M380.8,1391.6V1400.8M390,1391.6V1400.8" fill="none" stroke="#888" stroke-width="0.7"/>
<polyline points="292.6,1259.6 385.4,1396.2" fill="none" stroke="#000" stroke-width="2" stroke-linejoin="round" stroke-linecap="round"/>
<rect x="284.6" y="1251.6" width="16" height="16" fill="#000" fill-opacity="0.5" stroke="#000" stroke-width="2"/>
<rect x="377.4" y="1388.2" width="16" height="16" fill="#000" fill-opacity="0.5" stroke="#000" stroke-width="2"/>
<path d="M391,1295.4V1299.4M386.4,1295.4H395.6M386.4,1299.4H395.6M468.7,1320.6V1324.6M464.1,1320.6H473.3M464.1,1324.6H473.3" fill="none" stroke="#444" stroke-width="1.5"/>
<path d="M386.4,1297.4H395.6M386.4,1292.8V1302M395.6,1292.8V1302M464.1,1322.6H473.3M464.1,1318V1327.2M473.3,1318V1327.2" fill="none" stroke="#888" stroke-width="0.7"/>
<polyline points="391,1297.4 468.7,1322.6" fill="none" stroke="#000" stroke-width="2" stroke-linejoin="round" stroke-linecap="round"/>
<rect x="383" y="1289.4" width="16" height="16" fill="none" stroke="#000" stroke-width="2"/>
<rect x="460.7" y="1314.6" width="16" height="16" fill="none" stroke="#000" stroke-width="2"/>
<path d="M473.8,1284.1V1310.1M469.2,1284.1H478.4M469.2,1310.1H478.4M566.3,1397.7V1399.7M561.7,1397.7H570.9M561.7,1399.7H570.9" fill="none" stroke="#444" stroke-width="1.5"/>
<path d="M469.2,1297.1H478.4M469.2,1292.5V1301.7M478.4,1292.5V1301.7M561.7,1398.7H570.9M561.7,1394.1V1403.3M570.9,1394.1V1403.3" fill="none" stroke="#888" stroke-width="0.7"/>
<polyline points="473.8,1297.1 566.3,1398.7" fill="none" stroke="#000" stroke-width="2" stroke-linejoin="round" stroke-linecap="round"/>
<rect x="465.8" y="1289.1" width="16" height="16" fill="#000" fill-opacity="0.5" stroke="#000" stroke-width="2"/>
<rect x="558.3" y="1390.7" width="16" height="16" fill="#000" fill-opacity="0.5" stroke="#000" stroke-width="2"/>
<path d="M571.6,1199.4V1201.4M567,1199.4H576.2M567,1201.4H576.2M668.6,1344.8V1352.8M664,1344.8H673.2M664,1352.8H673.2" fill="none" stroke="#444" stroke-width="1.5"/>
<path d="M567,1200.4H576.2M567,1195.8V1205M576.2,1195.8V1205M664,1348.8H673.2M664,1344.2V1353.4M673.2,1344.2V1353.4" fill="none" stroke="#888" stroke-width="0.7"/>
<polyline points="571.6,1200.4 668.6,1348.8" fill="none" stroke="#000" stroke-width="2" stroke-linejoin="round" stroke-linecap="round"/>
<rect x="563.6" y="1192.4" width="16" height="16" fill="none" stroke="#000" stroke-width="2"/>
<rect x="660.6" y="1340.8" width="16" height="16" fill="none" stroke="#000" stroke-width="2"/>
<line x1="200.3" y1="1183.7" x2="239.5" y2="1183.7" stroke="#843C0C" stroke-width="2" stroke-linecap="butt"/>
<g transform="translate(243.3 1191.1)">
<text x="0" y="0" font-size="23.03" textLength="44.98" lengthAdjust="spacingAndGlyphs">DOC</text>
</g>
<line x1="200.3" y1="1211.1" x2="239.5" y2="1211.1" stroke="#000" stroke-width="2" stroke-linecap="butt"/>
<rect x="213.1" y="1204.2" width="13.8" height="13.8" fill="#000" fill-opacity="0.5" stroke="#000" stroke-width="2"/>
<g transform="translate(243.3 1218)">
<text x="0" y="0" font-size="22.75" textLength="54.92" lengthAdjust="spacingAndGlyphs">SUVA</text>
</g>
<polyline points="953.42,1509.62 960.98,1507.1 977.37,1502.82 1002.07,1499.04 1027.02,1458.71 1047.18,1443.58 1051.72,1497.02 1057.27,1505.84 1072.64,1501.81 1102.13,1504.08 1132.38,1503.32 1137.81,1499.04 1142.85,1496.26 1147.89,1496.26 1162.51,1492.99 1187.71,1495 1217.45,1466.02 1232.83,1469.55 1237.37,1499.04 1238.63,1493.24 1242.66,1499.54 1257.53,1492.99 1287.78,1502.06 1317.27,1497.27 1323.06,1496.51 1348.27,1492.48 1374.23,1493.74 1398.68,1470.55 1418.59,1468.03 1422.87,1496.51 1423.88,1491.22 1427.66,1500.04 1443.29,1498.53 1473.03,1491.98 1504.05,1494.25 1524.21,1501.3" fill="none" stroke="#843C0C" stroke-width="1.8" stroke-linejoin="round" stroke-linecap="round"/>
<polyline points="951.9,1502.1 1047.4,1473.1" fill="none" stroke="#0000FF" stroke-width="2" stroke-linejoin="round" stroke-linecap="round"/>
<polygon points="951.9,1493.6 960.4,1510.6 943.4,1510.6" fill="#0000FF" stroke="#0000FF" stroke-width="2" stroke-linejoin="miter"/>
<polygon points="1047.4,1464.6 1055.9,1481.6 1038.9,1481.6" fill="#0000FF" stroke="#0000FF" stroke-width="2" stroke-linejoin="miter"/>
<polyline points="1052.5,1423.9 1132.3,1483.5" fill="none" stroke="#0000FF" stroke-width="2" stroke-linejoin="round" stroke-linecap="round"/>
<polygon points="1052.5,1415.4 1061,1432.4 1044,1432.4" fill="none" stroke="#0000FF" stroke-width="2" stroke-linejoin="miter"/>
<polygon points="1132.3,1475 1140.8,1492 1123.8,1492" fill="none" stroke="#0000FF" stroke-width="2" stroke-linejoin="miter"/>
<polyline points="1137.6,1312 1232.6,1369.2" fill="none" stroke="#0000FF" stroke-width="2" stroke-linejoin="round" stroke-linecap="round"/>
<polygon points="1137.6,1303.5 1146.1,1320.5 1129.1,1320.5" fill="#0000FF" stroke="#0000FF" stroke-width="2" stroke-linejoin="miter"/>
<polygon points="1232.6,1360.7 1241.1,1377.7 1224.1,1377.7" fill="#0000FF" stroke="#0000FF" stroke-width="2" stroke-linejoin="miter"/>
<polyline points="1238.1,1349.1 1317.6,1371.5" fill="none" stroke="#0000FF" stroke-width="2" stroke-linejoin="round" stroke-linecap="round"/>
<polygon points="1238.1,1340.6 1246.6,1357.6 1229.6,1357.6" fill="none" stroke="#0000FF" stroke-width="2" stroke-linejoin="miter"/>
<polygon points="1317.6,1363 1326.1,1380 1309.1,1380" fill="none" stroke="#0000FF" stroke-width="2" stroke-linejoin="miter"/>
<polyline points="1323.4,1233.8 1418.5,1411.3" fill="none" stroke="#0000FF" stroke-width="2" stroke-linejoin="round" stroke-linecap="round"/>
<polygon points="1323.4,1225.3 1331.9,1242.3 1314.9,1242.3" fill="#0000FF" stroke="#0000FF" stroke-width="2" stroke-linejoin="miter"/>
<polygon points="1418.5,1402.8 1427,1419.8 1410,1419.8" fill="#0000FF" stroke="#0000FF" stroke-width="2" stroke-linejoin="miter"/>
<polyline points="1423.4,1364.4 1509.6,1439.8" fill="none" stroke="#0000FF" stroke-width="2" stroke-linejoin="round" stroke-linecap="round"/>
<polygon points="1423.4,1355.9 1431.9,1372.9 1414.9,1372.9" fill="none" stroke="#0000FF" stroke-width="2" stroke-linejoin="miter"/>
<polygon points="1509.6,1431.3 1518.1,1448.3 1501.1,1448.3" fill="none" stroke="#0000FF" stroke-width="2" stroke-linejoin="miter"/>
<polyline points="952.4,1428 1047.7,1272.2" fill="none" stroke="#006400" stroke-width="2" stroke-linejoin="round" stroke-linecap="round"/>
<rect x="944.8" y="1420.4" width="15.2" height="15.2" fill="#006400" fill-opacity="1" stroke="#006400" stroke-width="2"/>
<rect x="1040.1" y="1264.6" width="15.2" height="15.2" fill="#006400" fill-opacity="1" stroke="#006400" stroke-width="2"/>
<polyline points="1052.5,1337.5 1132.4,1377.8" fill="none" stroke="#006400" stroke-width="2" stroke-linejoin="round" stroke-linecap="round"/>
<rect x="1044.9" y="1329.9" width="15.2" height="15.2" fill="none" stroke="#006400" stroke-width="2"/>
<rect x="1124.8" y="1370.2" width="15.2" height="15.2" fill="none" stroke="#006400" stroke-width="2"/>
<polyline points="1137.7,1445.3 1232.6,1324.4" fill="none" stroke="#006400" stroke-width="2" stroke-linejoin="round" stroke-linecap="round"/>
<rect x="1130.1" y="1437.7" width="15.2" height="15.2" fill="#006400" fill-opacity="1" stroke="#006400" stroke-width="2"/>
<rect x="1225" y="1316.8" width="15.2" height="15.2" fill="#006400" fill-opacity="1" stroke="#006400" stroke-width="2"/>
<polyline points="1238.1,1409.8 1318.1,1352.6" fill="none" stroke="#006400" stroke-width="2" stroke-linejoin="round" stroke-linecap="round"/>
<rect x="1230.5" y="1402.2" width="15.2" height="15.2" fill="none" stroke="#006400" stroke-width="2"/>
<rect x="1310.5" y="1345" width="15.2" height="15.2" fill="none" stroke="#006400" stroke-width="2"/>
<polyline points="1323.6,1380.6 1418.6,1282" fill="none" stroke="#006400" stroke-width="2" stroke-linejoin="round" stroke-linecap="round"/>
<rect x="1316" y="1373" width="15.2" height="15.2" fill="#006400" fill-opacity="1" stroke="#006400" stroke-width="2"/>
<rect x="1411" y="1274.4" width="15.2" height="15.2" fill="#006400" fill-opacity="1" stroke="#006400" stroke-width="2"/>
<polyline points="1423.6,1368.7 1523.5,1242.5" fill="none" stroke="#006400" stroke-width="2" stroke-linejoin="round" stroke-linecap="round"/>
<rect x="1416" y="1361.1" width="15.2" height="15.2" fill="none" stroke="#006400" stroke-width="2"/>
<rect x="1515.9" y="1234.9" width="15.2" height="15.2" fill="none" stroke="#006400" stroke-width="2"/>
<line x1="1046.6" y1="1192" x2="1085.2" y2="1192" stroke="#843C0C" stroke-width="2" stroke-linecap="round"/>
<g transform="translate(1090 1199)">
<text x="0" y="0" font-size="22.09" textLength="43.14" lengthAdjust="spacingAndGlyphs">DOC</text>
</g>
<line x1="1046.6" y1="1218" x2="1085.2" y2="1218" stroke="#0000FF" stroke-width="2" stroke-linecap="round"/>
<polygon points="1065.8,1212 1072.4,1225.2 1059.2,1225.2" fill="#0000FF" stroke="#0000FF" stroke-width="2" stroke-linejoin="miter"/>
<g transform="translate(1090 1225)">
<text x="0" y="0" font-size="22.09" textLength="34.03" lengthAdjust="spacingAndGlyphs">HIX</text>
</g>
<line x1="1046.6" y1="1244.2" x2="1085.2" y2="1244.2" stroke="#006400" stroke-width="2" stroke-linecap="round"/>
<rect x="1058.8" y="1237.1" width="14" height="14" fill="#006400" fill-opacity="1" stroke="#006400" stroke-width="2"/>
<g transform="translate(1090 1251.3)">
<text x="0" y="0" font-size="22.09" textLength="32.38" lengthAdjust="spacingAndGlyphs">BIX</text>
</g>
<g transform="translate(26 264.8) rotate(-90)">
<text x="-51.25" y="0" font-size="30.08" textLength="32.03" lengthAdjust="spacingAndGlyphs">Eh</text>
<text x="-12.15" y="0" font-size="30.08" textLength="63.4" lengthAdjust="spacingAndGlyphs">(mV)</text>
</g>
<g transform="translate(35.9 628.7) rotate(-90)">
<text x="-18.25" y="0" font-size="30.08" textLength="36.5" lengthAdjust="spacingAndGlyphs">pH</text>
</g>
<g transform="translate(41 1006.7) rotate(-90)">
<text x="-99.5" y="0" font-size="30.08" textLength="58.43" lengthAdjust="spacingAndGlyphs">DOC</text>
<text x="-33.87" y="0" font-size="30.08" textLength="86.63" lengthAdjust="spacingAndGlyphs">(mmol</text>
<text x="59.95" y="0" font-size="30.08" textLength="13.46" lengthAdjust="spacingAndGlyphs">L</text>
<text x="73.41" y="-9.8" font-size="18.8" textLength="16.17" lengthAdjust="spacingAndGlyphs">-1</text>
<text x="89.58" y="0" font-size="30.08" textLength="9.92" lengthAdjust="spacingAndGlyphs">)</text>
</g>
<g transform="translate(37 1355.6) rotate(-90)">
<text x="-99.5" y="0" font-size="30.08" textLength="58.43" lengthAdjust="spacingAndGlyphs">DOC</text>
<text x="-33.87" y="0" font-size="30.08" textLength="86.63" lengthAdjust="spacingAndGlyphs">(mmol</text>
<text x="59.95" y="0" font-size="30.08" textLength="13.46" lengthAdjust="spacingAndGlyphs">L</text>
<text x="73.41" y="-9.8" font-size="18.8" textLength="16.17" lengthAdjust="spacingAndGlyphs">-1</text>
<text x="89.58" y="0" font-size="30.08" textLength="9.92" lengthAdjust="spacingAndGlyphs">)</text>
</g>
<g transform="translate(739.5 1346.8) rotate(90)">
<text x="-27" y="0" font-size="23.12" textLength="54" lengthAdjust="spacingAndGlyphs">SUVA</text>
</g>
<g transform="translate(883.5 242.9) rotate(-90)">
<text x="-101.25" y="0" font-size="30.08" textLength="31.06" lengthAdjust="spacingAndGlyphs">Fe</text>
<text x="-70.19" y="8" font-size="18.8" textLength="34.92" lengthAdjust="spacingAndGlyphs">tota</text>
<text x="-27.87" y="0" font-size="30.08" textLength="80.99" lengthAdjust="spacingAndGlyphs">(µmol</text>
<text x="60.54" y="0" font-size="30.08" textLength="13.86" lengthAdjust="spacingAndGlyphs">L</text>
<text x="74.39" y="-9.8" font-size="18.8" textLength="16.65" lengthAdjust="spacingAndGlyphs">-1</text>
<text x="91.04" y="0" font-size="30.08" textLength="10.21" lengthAdjust="spacingAndGlyphs">)</text>
</g>
<g transform="translate(874.1 625.9) rotate(-90)">
<text x="-96.25" y="0" font-size="30.08" textLength="29.91" lengthAdjust="spacingAndGlyphs">Fe</text>
<text x="-59.2" y="0" font-size="30.08" textLength="16.83" lengthAdjust="spacingAndGlyphs">II</text>
<text x="-28.11" y="0" font-size="30.08" textLength="78.01" lengthAdjust="spacingAndGlyphs">(µmol</text>
<text x="57.04" y="0" font-size="30.08" textLength="13.35" lengthAdjust="spacingAndGlyphs">L</text>
<text x="70.38" y="-9.8" font-size="18.8" textLength="16.04" lengthAdjust="spacingAndGlyphs">-1</text>
<text x="86.42" y="0" font-size="30.08" textLength="9.83" lengthAdjust="spacingAndGlyphs">)</text>
</g>
<g transform="translate(872.3 1008.1) rotate(-90)">
<text x="-63.75" y="0" font-size="30.08" textLength="16.74" lengthAdjust="spacingAndGlyphs">δ</text>
<text x="-47.01" y="-9.1" font-size="19.74" textLength="20.91" lengthAdjust="spacingAndGlyphs">56</text>
<text x="-26.1" y="0" font-size="30.08" textLength="29.79" lengthAdjust="spacingAndGlyphs">Fe</text>
<text x="10.8" y="0" font-size="30.08" textLength="52.95" lengthAdjust="spacingAndGlyphs">(‰)</text>
</g>
<g transform="translate(878.7 1360.6) rotate(-90)">
<text x="-144.25" y="0" font-size="30.08" textLength="58.31" lengthAdjust="spacingAndGlyphs">DOC</text>
<text x="-78.76" y="0" font-size="30.08" textLength="86.44" lengthAdjust="spacingAndGlyphs">(mmol</text>
<text x="14.87" y="0" font-size="30.08" textLength="13.43" lengthAdjust="spacingAndGlyphs">L</text>
<text x="28.3" y="-9.8" font-size="18.8" textLength="16.14" lengthAdjust="spacingAndGlyphs">-1</text>
<text x="44.44" y="0" font-size="30.08" textLength="9.89" lengthAdjust="spacingAndGlyphs">)</text>
<text x="61.51" y="0" font-size="30.08" textLength="22.38" lengthAdjust="spacingAndGlyphs">&amp;</text>
<text x="98.25" y="0" font-size="30.08" textLength="46" lengthAdjust="spacingAndGlyphs">HIX</text>
</g>
<g transform="translate(1627.8 1352.5) rotate(90)">
<text x="-21.5" y="0" font-size="30.08" textLength="43" lengthAdjust="spacingAndGlyphs">BIX</text>
</g>
</svg>
</body></html>
